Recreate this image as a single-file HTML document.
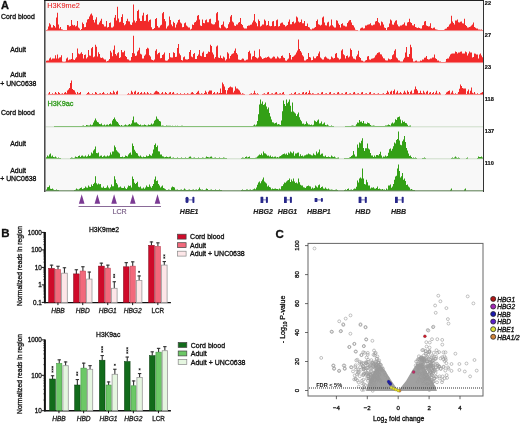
<!DOCTYPE html><html><head><meta charset="utf-8"><style>html,body{margin:0;padding:0;background:#fff;}svg{display:block;will-change:transform;}text{font-family:"Liberation Sans", sans-serif;}</style></head><body>
<svg width="520" height="423" viewBox="0 0 520 423">
<rect width="520" height="423" fill="#fff"/>
<rect x="45.5" y="0" width="437.5" height="192" fill="#f8f8f8"/>
<path d="M46,30.6V29.9H47V29.6H48V26.6H49V23.3H50V24.6H51V27.5H52V27.6H53V24.9H54V26.1H55V27.6H56V17.5H57V12.7H58V24.6H59V28.4H60V27.1H61V29.3H62V29.6H63V29.9H64V29.9H65V29.9H66V29.9H67V24.9H68V25.2H69V26.6H70V26.1H71V20.0H72V24.7H73V25.5H74V24.9H75V26.5H76V25.8H77V21.1H78V27.6H79V28.6H80V29.9H81V28.9H82V22.6H83V24.0H84V27.3H85V27.0H86V22.5H87V19.6H88V19.1H89V16.5H90V14.6H91V13.6H92V15.6H93V20.1H94V22.4H95V19.6H96V17.3H97V24.5H98V24.4H99V22.6H100V20.8H101V18.8H102V24.0H103V24.6H104V26.6H105V26.6H106V21.1H107V27.5H108V26.9H109V23.0H110V22.6H111V27.5H112V27.6H113V26.5H114V17.8H115V15.0H116V20.6H117V6.7H118V18.6H119V22.2H120V21.7H121V17.0H122V14.3H123V23.1H124V25.3H125V24.3H126V21.1H127V18.8H128V21.2H129V21.6H130V24.6H131V25.0H132V22.6H133V4.4H134V20.6H135V22.4H136V21.0H137V10.9H138V9.7H139V18.4H140V21.1H141V21.0H142V15.6H143V12.7H144V20.9H145V20.7H146V15.1H147V14.3H148V21.4H149V19.9H150V19.6H151V27.2H152V29.2H153V29.1H154V27.9H155V19.1H156V18.0H157V26.1H158V27.6H159V27.4H160V25.6H161V24.7H162V13.2H163V12.0H164V19.1H165V21.3H166V28.5H167V26.5H168V25.6H169V16.6H170V19.9H171V24.6H172V26.3H173V21.8H174V22.9H175V27.4H176V24.6H177V22.6H178V20.1H179V19.6H180V22.5H181V23.5H182V27.3H183V27.1H184V23.2H185V22.6H186V25.4H187V26.5H188V27.4H189V27.6H190V29.6H191V28.8H192V24.6H193V25.1H194V22.5H195V22.0H196V20.6H197V15.7H198V15.0H199V19.5H200V25.5H201V25.9H202V19.6H203V23.0H204V23.3H205V20.3H206V19.6H207V22.3H208V22.2H209V19.2H210V18.8H211V23.4H212V24.2H213V24.5H214V24.3H215V22.3H216V13.3H217V12.0H218V20.6H219V27.5H220V28.2H221V25.1H222V24.4H223V21.6H224V26.6H225V27.6H226V28.5H227V28.1H228V24.2H229V22.3H230V16.5H231V15.0H232V21.4H233V22.6H234V25.5H235V25.9H236V24.6H237V24.4H238V22.8H239V22.0H240V18.0H241V23.9H242V25.0H243V27.5H244V28.4H245V28.5H246V28.4H247V25.9H248V25.6H249V25.6H250V24.7H251V24.4H252V22.4H253V20.6H254V14.0H255V21.7H256V23.3H257V26.2H258V19.6H259V20.9H260V26.5H261V25.7H262V24.6H263V24.6H264V19.6H265V20.7H266V25.5H267V24.9H268V21.1H269V25.7H270V26.3H271V25.9H272V21.6H273V21.1H274V26.3H275V25.9H276V20.2H277V19.6H278V26.6H279V26.1H280V23.6H281V22.8H282V22.6H283V24.4H284V24.9H285V26.6H286V25.7H287V25.1H288V21.8H289V19.6H290V24.2H291V24.2H292V21.9H293V21.6H294V23.5H295V22.6H296V16.6H297V17.4H298V21.6H299V22.5H300V22.1H301V19.6H302V23.2H303V23.2H304V21.1H305V26.0H306V26.1H307V23.6H308V27.1H309V27.6H310V29.3H311V29.5H312V28.6H313V28.6H314V27.7H315V26.9H316V21.1H317V19.6H318V24.2H319V24.7H320V25.5H321V24.8H322V17.5H323V16.6H324V22.6H325V25.3H326V25.5H327V22.4H328V21.8H329V26.5H330V25.5H331V19.6H332V25.3H333V26.6H334V27.6H335V27.4H336V20.3H337V20.8H338V23.6H339V24.9H340V27.5H341V24.1H342V23.3H343V25.4H344V25.7H345V26.5H346V26.4H347V22.9H348V21.6H349V20.2H350V20.0H351V22.5H352V25.1H353V25.6H354V27.5H355V29.7H356V29.9H357V29.9H358V30.6H359V30.6H360V28.6H361V27.8H362V27.6H363V28.5H364V28.3H365V25.6H366V25.5H367V24.7H368V24.5H369V24.2H370V23.3H371V25.3H372V25.5H373V24.8H374V24.4H375V21.6H376V20.9H377V18.0H378V22.2H379V23.2H380V25.4H381V21.6H382V22.2H383V24.6H384V27.4H385V28.0H386V29.9H387V27.6H388V27.0H389V23.5H390V19.6H391V20.4H392V24.6H393V24.8H394V22.6H395V20.7H396V20.3H397V24.4H398V26.2H399V26.5H400V25.6H401V25.6H402V24.7H403V24.2H404V22.6H405V25.6H406V25.7H407V22.6H408V21.9H409V18.8H410V22.3H411V23.0H412V25.3H413V25.4H414V24.1H415V27.0H416V27.6H417V27.9H418V27.6H419V28.1H420V28.6H421V28.5H422V25.6H423V25.1H424V21.6H425V21.1H426V25.4H427V26.1H428V26.5H429V26.2H430V23.3H431V27.9H432V28.5H433V27.8H434V27.6H435V29.3H436V29.6H437V29.7H438V29.9H439V29.9H440V29.9H441V29.9H442V29.9H443V29.9H444V29.6H445V28.7H446V28.4H447V27.0H448V26.5H449V24.6H450V23.4H451V15.8H452V21.6H453V22.9H454V24.5H455V20.6H456V20.4H457V19.6H458V22.3H459V22.5H460V21.7H461V21.6H462V23.3H463V23.6H464V18.8H465V25.0H466V25.9H467V27.4H468V27.5H469V27.1H470V26.5H471V25.4H472V24.6H473V22.6H474V27.1H475V27.7H476V28.5H477V28.6H478V29.6H479V29.6H480V29.7H481V29.6H482V29.9H483L483.0,30.6Z" fill="#f22a2a"/>
<line x1="45.5" y1="30.8" x2="483" y2="30.8" stroke="#f22a2a" stroke-opacity="0.25" stroke-width="0.6"/>
<path d="M46,62.6V60.7H47V60.6H48V60.6H49V58.4H50V57.6H51V59.5H52V58.6H53V58.6H54V58.6H55V55.3H56V58.4H57V54.6H58V58.4H59V57.6H60V57.2H61V55.3H62V61.6H63V61.7H64V61.7H65V61.4H66V58.4H67V57.6H68V60.2H69V59.6H70V59.6H71V59.0H72V53.1H73V59.6H74V59.9H75V58.6H76V57.3H77V48.6H78V53.6H79V54.2H80V53.5H81V52.3H82V53.9H83V58.4H84V55.1H85V54.6H86V58.4H87V57.3H88V50.0H89V55.5H90V55.8H91V48.2H92V47.0H93V57.3H94V56.4H95V44.7H96V46.7H97V56.4H98V52.3H99V54.0H100V57.6H101V58.0H102V57.6H103V58.6H104V59.6H105V59.6H106V61.6H107V61.0H108V60.6H109V59.0H110V50.8H111V52.6H112V56.2H113V49.7H114V45.5H115V54.0H116V55.4H117V53.3H118V52.3H119V57.9H120V57.2H121V50.0H122V52.3H123V52.3H124V50.8H125V56.0H126V56.9H127V59.2H128V59.6H129V60.5H130V60.6H131V57.1H132V53.1H133V35.7H134V53.6H135V56.1H136V55.6H137V51.4H138V50.3H139V47.8H140V53.8H141V54.6H142V58.4H143V58.5H144V55.7H145V54.6H146V48.9H147V47.8H148V48.6H149V55.3H150V56.6H151V59.5H152V60.0H153V60.5H154V59.4H155V50.7H156V49.3H157V54.3H158V53.0H159V52.6H160V58.3H161V58.1H162V54.9H163V54.2H164V52.6H165V60.6H166V60.8H167V60.6H168V59.2H169V53.1H170V57.2H171V57.5H172V57.6H173V52.3H174V52.9H175V57.0H176V56.7H177V48.0H178V44.0H179V53.5H180V55.2H181V59.9H182V60.4H183V57.3H184V56.6H185V59.3H186V59.6H187V59.6H188V59.1H189V52.1H190V50.0H191V56.6H192V57.2H193V54.1H194V53.1H195V59.1H196V59.1H197V56.0H198V54.6H199V50.0H200V55.8H201V56.2H202V52.7H203V51.6H204V57.1H205V57.1H206V54.0H207V53.4H208V51.6H209V52.0H210V44.7H211V46.0H212V52.6H213V54.4H214V58.4H215V56.9H216V46.6H217V45.5H218V57.6H219V57.9H220V55.6H221V58.0H222V58.4H223V56.6H224V57.6H225V60.6H226V59.2H227V52.3H228V53.5H229V58.5H230V55.9H231V54.6H232V53.8H233V53.2H234V50.8H235V48.6H236V53.1H237V54.6H238V59.6H239V59.7H240V60.0H241V59.6H242V58.6H243V58.8H244V60.4H245V60.5H246V59.8H247V59.4H248V51.9H249V50.8H250V53.6H251V59.4H252V56.6H253V55.9H254V50.8H255V57.1H256V57.7H257V58.5H258V57.4H259V49.3H260V56.3H261V57.6H262V59.0H263V58.6H264V58.0H265V57.6H266V57.7H267V57.1H268V56.6H269V57.4H270V58.5H271V58.4H272V57.6H273V56.6H274V56.8H275V58.4H276V58.4H277V56.6H278V57.5H279V58.4H280V58.3H281V56.0H282V55.6H283V57.4H284V58.1H285V60.6H286V60.7H287V59.6H288V58.6H289V53.1H290V54.9H291V59.5H292V57.1H293V56.5H294V55.5H295V54.5H296V52.6H297V50.6H298V39.5H299V49.0H300V50.9H301V52.6H302V55.3H303V56.4H304V60.6H305V60.5H306V59.6H307V58.9H308V53.1H309V57.0H310V57.6H311V60.3H312V60.1H313V56.6H314V58.3H315V58.3H316V56.6H317V56.0H318V53.4H319V51.6H320V57.5H321V58.6H322V59.6H323V59.5H324V57.2H325V56.6H326V57.6H327V58.5H328V58.7H329V59.5H330V59.3H331V56.6H332V57.4H333V58.5H334V58.0H335V53.8H336V53.1H337V57.4H338V58.3H339V59.4H340V58.7H341V50.6H342V49.3H343V54.2H344V55.3H345V58.6H346V56.0H347V55.6H348V57.6H349V56.4H350V48.6H351V50.1H352V56.6H353V58.4H354V58.8H355V59.4H356V56.2H357V54.6H358V50.8H359V56.9H360V58.1H361V60.6H362V60.8H363V61.6H364V61.6H365V60.6H366V60.1H367V56.6H368V56.1H369V59.4H370V59.8H371V58.7H372V58.5H373V58.2H374V57.5H375V55.4H376V54.6H377V52.9H378V52.6H379V52.3H380V54.2H381V54.6H382V56.5H383V58.3H384V58.6H385V60.3H386V60.6H387V60.5H388V58.6H389V59.2H390V59.5H391V59.1H392V55.2H393V54.3H394V50.8H395V49.3H396V57.4H397V58.6H398V60.3H399V60.6H400V61.4H401V61.6H402V61.4H403V59.6H404V57.8H405V52.6H406V47.0H407V56.8H408V57.0H409V54.1H410V44.7H411V47.3H412V58.6H413V61.4H414V61.5H415V60.7H416V60.6H417V61.6H418V61.6H419V61.5H420V60.6H421V60.8H422V59.6H423V59.4H424V57.8H425V57.5H426V56.1H427V58.9H428V59.5H429V59.3H430V58.6H431V58.6H432V57.6H433V57.6H434V54.6H435V58.3H436V58.9H437V60.4H438V60.6H439V61.5H440V61.6H441V61.9H442V61.9H443V61.9H444V61.9H445V61.7H446V59.0H447V58.6H448V58.5H449V56.5H450V54.6H451V53.8H452V53.6H453V53.6H454V53.4H455V51.6H456V51.9H457V53.6H458V52.6H459V52.5H460V51.7H461V51.6H462V53.5H463V53.6H464V53.4H465V51.6H466V52.3H467V55.5H468V53.6H469V51.6H470V52.4H471V52.6H472V57.5H473V57.1H474V53.6H475V53.7H476V54.5H477V54.6H478V58.5H479V54.5H480V53.6H481V55.5H482V57.3H483L483.0,62.6Z" fill="#f22a2a"/>
<line x1="45.5" y1="62.80" x2="483" y2="62.80" stroke="#f22a2a" stroke-opacity="0.25" stroke-width="0.6"/>
<path d="M46,94.6V94.6H47V94.6H48V93.6H49V92.0H50V93.9H51V93.9H52V93.3H53V93.9H54V93.8H55V92.0H56V93.3H57V93.9H58V92.0H59V93.1H60V93.9H61V93.7H62V93.3H63V93.9H64V92.8H65V92.0H66V93.2H67V90.4H68V89.5H69V88.1H70V83.1H71V80.6H72V89.0H73V90.1H74V90.6H75V92.6H76V93.9H77V92.0H78V93.5H79V93.0H80V92.0H81V94.6H82V94.6H83V94.6H84V94.6H85V94.6H86V93.9H87V92.9H88V92.0H89V93.5H90V93.9H91V93.9H92V93.3H93V93.9H94V93.9H95V92.0H96V92.8H97V93.9H98V93.9H99V93.6H100V93.3H101V93.9H102V93.1H103V92.0H104V93.5H105V93.9H106V93.9H107V93.3H108V93.9H109V93.7H110V92.0H111V93.3H112V93.6H113V90.7H114V92.2H115V93.9H116V91.8H117V90.7H118V94.6H119V94.6H120V94.6H121V94.6H122V94.6H123V94.6H124V94.6H125V94.6H126V94.6H127V93.9H128V93.3H129V93.9H130V93.8H131V90.7H132V92.2H133V93.9H134V91.8H135V90.7H136V93.9H137V92.8H138V92.0H139V93.9H140V93.1H141V92.0H142V93.8H143V93.5H144V92.0H145V93.5H146V93.8H147V92.0H148V93.3H149V93.9H150V93.3H151V93.8H152V93.9H153V93.7H154V92.6H155V91.3H156V90.7H157V91.6H158V92.0H159V93.5H160V93.9H161V93.2H162V92.0H163V93.7H164V93.7H165V92.0H166V92.9H167V93.9H168V93.7H169V92.5H170V92.0H171V93.9H172V92.8H173V92.0H174V93.7H175V93.9H176V93.7H177V93.3H178V93.9H179V93.9H180V93.3H181V93.9H182V93.9H183V93.9H184V93.3H185V93.9H186V93.9H187V93.3H188V93.7H189V93.9H190V93.8H191V92.6H192V92.0H193V93.3H194V93.9H195V93.9H196V93.1H197V91.7H198V90.7H199V93.5H200V93.9H201V93.3H202V93.8H203V93.9H204V93.1H205V90.7H206V92.2H207V93.9H208V91.7H209V90.6H210V90.6H211V90.6H212V93.9H213V93.1H214V92.0H215V93.7H216V93.6H217V92.0H218V93.6H219V92.9H220V88.6H221V92.9H222V82.6H223V84.3H224V86.6H225V90.0H226V93.8H227V90.3H228V88.1H229V87.2H230V86.6H231V87.2H232V87.6H233V92.4H234V90.8H235V86.6H236V88.6H237V88.5H238V89.5H239V90.5H240V92.6H241V93.9H242V93.3H243V93.7H244V93.9H245V94.6H246V94.6H247V94.6H248V94.6H249V93.9H250V93.8H251V93.3H252V93.9H253V93.2H254V90.7H255V93.3H256V93.9H257V93.3H258V93.9H259V94.6H260V94.6H261V94.6H262V93.9H263V93.7H264V93.3H265V93.9H266V93.9H267V92.6H268V92.0H269V93.9H270V93.9H271V93.6H272V93.3H273V93.9H274V93.8H275V92.6H276V92.0H277V93.8H278V93.9H279V93.6H280V93.3H281V93.9H282V92.8H283V92.0H284V93.9H285V94.6H286V94.6H287V94.6H288V94.6H289V93.9H290V93.9H291V93.3H292V93.9H293V93.9H294V92.7H295V92.0H296V93.9H297V93.9H298V93.6H299V93.3H300V93.9H301V93.9H302V92.6H303V92.0H304V93.9H305V92.8H306V92.0H307V93.9H308V93.0H309V90.6H310V93.2H311V93.9H312V93.3H313V93.6H314V93.9H315V93.9H316V93.9H317V93.5H318V93.3H319V93.9H320V93.9H321V92.6H322V92.0H323V93.9H324V93.9H325V93.6H326V93.3H327V93.9H328V93.9H329V92.6H330V92.0H331V93.9H332V93.9H333V93.6H334V93.3H335V93.9H336V93.9H337V92.6H338V92.0H339V93.8H340V93.9H341V93.6H342V93.3H343V93.9H344V93.9H345V92.6H346V92.0H347V93.9H348V93.9H349V93.6H350V93.3H351V93.9H352V93.9H353V92.6H354V92.0H355V93.8H356V93.9H357V93.6H358V93.3H359V93.9H360V93.9H361V92.6H362V92.0H363V93.9H364V93.9H365V93.6H366V93.3H367V93.9H368V93.9H369V92.6H370V92.0H371V93.9H372V93.9H373V93.6H374V93.3H375V93.9H376V93.9H377V93.7H378V93.3H379V93.9H380V93.9H381V93.9H382V93.8H383V93.3H384V93.9H385V93.9H386V93.0H387V90.7H388V92.2H389V93.9H390V91.8H391V90.7H392V93.9H393V91.1H394V89.6H395V93.8H396V92.4H397V90.7H398V93.5H399V93.3H400V92.0H401V93.3H402V93.9H403V92.8H404V90.7H405V92.5H406V93.7H407V90.6H408V92.1H409V93.9H410V91.7H411V90.6H412V93.4H413V93.2H414V89.4H415V86.6H416V88.9H417V90.6H418V93.3H419V93.0H420V90.7H421V93.0H422V93.4H423V90.7H424V92.4H425V93.8H426V91.7H427V90.7H428V93.9H429V92.8H430V92.0H431V93.9H432V93.0H433V92.0H434V93.9H435V92.7H436V90.7H437V93.4H438V93.7H439V92.0H440V93.5H441V94.6H442V94.6H443V94.6H444V94.6H445V93.9H446V92.6H447V91.7H448V91.0H449V90.6H450V93.8H451V92.4H452V90.7H453V93.6H454V93.9H455V93.3H456V93.9H457V93.8H458V92.0H459V88.8H460V84.6H461V86.1H462V88.0H463V88.6H464V88.6H465V88.6H466V93.9H467V91.3H468V89.6H469V93.6H470V90.8H471V87.6H472V92.7H473V93.5H474V92.0H475V93.7H476V93.9H477V93.3H478V93.9H479V93.9H480V93.3H481V92.8H482V92.0H483L483.0,94.6Z" fill="#f22a2a"/>
<line x1="45.5" y1="94.8" x2="483" y2="94.8" stroke="#f22a2a" stroke-opacity="0.25" stroke-width="0.6"/>
<path d="M46,126.6V126.6H47V126.6H48V126.6H49V126.6H50V126.6H51V126.6H52V126.6H53V126.6H54V125.9H55V125.9H56V125.9H57V125.9H58V125.9H59V125.9H60V125.9H61V125.9H62V125.9H63V125.9H64V125.9H65V125.9H66V125.9H67V125.9H68V125.9H69V125.9H70V125.9H71V125.9H72V125.9H73V125.9H74V125.9H75V125.9H76V125.9H77V125.9H78V125.9H79V125.9H80V125.9H81V125.9H82V125.8H83V125.6H84V125.9H85V125.9H86V125.1H87V125.3H88V125.6H89V125.6H90V124.6H91V125.2H92V124.8H93V122.6H94V120.6H95V118.6H96V120.6H97V122.1H98V122.6H99V123.9H100V124.3H101V123.6H102V125.2H103V125.3H104V124.6H105V125.4H106V124.8H107V124.4H108V125.2H109V124.1H110V123.6H111V124.5H112V120.6H113V119.0H114V117.6H115V119.5H116V121.2H117V122.0H118V123.4H119V125.1H120V125.7H121V125.1H122V125.7H123V125.8H124V125.2H125V124.6H126V125.2H127V125.4H128V124.8H129V124.1H130V124.7H131V123.5H132V120.2H133V116.6H134V122.6H135V122.6H136V122.2H137V123.4H138V124.2H139V125.1H140V124.6H141V125.4H142V125.3H143V125.3H144V124.6H145V125.0H146V125.6H147V125.5H148V124.6H149V125.0H150V124.8H151V123.6H152V124.6H153V123.4H154V120.8H155V119.7H156V116.6H157V118.7H158V119.6H159V121.1H160V121.6H161V125.7H162V125.6H163V125.7H164V125.9H165V125.9H166V125.6H167V125.7H168V125.7H169V125.7H170V125.8H171V125.9H172V125.8H173V125.9H174V125.9H175V125.8H176V125.9H177V125.8H178V125.9H179V125.9H180V125.9H181V125.8H182V125.8H183V125.9H184V125.9H185V125.9H186V125.9H187V125.9H188V125.9H189V125.9H190V125.9H191V125.9H192V125.9H193V125.9H194V125.9H195V125.9H196V125.9H197V125.9H198V125.9H199V125.9H200V125.9H201V125.9H202V125.9H203V125.9H204V125.9H205V125.9H206V125.9H207V125.9H208V125.9H209V125.9H210V125.9H211V125.9H212V125.9H213V125.9H214V125.9H215V125.9H216V125.9H217V125.9H218V125.9H219V125.9H220V125.9H221V125.9H222V125.9H223V125.9H224V125.9H225V125.9H226V125.9H227V125.9H228V125.9H229V125.9H230V125.9H231V125.9H232V125.9H233V125.9H234V125.9H235V125.9H236V125.9H237V125.9H238V125.9H239V125.9H240V125.9H241V125.9H242V125.9H243V125.9H244V125.9H245V125.9H246V125.9H247V125.9H248V125.9H249V125.9H250V125.9H251V125.9H252V125.9H253V125.6H254V124.6H255V125.4H256V124.6H257V121.1H258V114.2H259V104.5H260V99.6H261V103.7H262V101.6H263V104.9H264V104.3H265V102.6H266V106.6H267V109.3H268V107.6H269V113.1H270V116.6H271V119.5H272V122.2H273V122.6H274V123.4H275V123.0H276V122.6H277V124.4H278V124.1H279V124.5H280V125.0H281V120.6H282V111.2H283V100.6H284V104.1H285V106.1H286V99.6H287V103.2H288V101.7H289V99.6H290V105.8H291V111.8H292V102.4H293V111.6H294V112.6H295V113.5H296V116.1H297V114.2H298V112.6H299V117.2H300V119.8H301V121.2H302V123.7H303V123.6H304V124.4H305V123.9H306V121.6H307V123.3H308V124.4H309V124.6H310V124.9H311V124.6H312V125.3H313V124.7H314V120.6H315V121.3H316V122.0H317V120.4H318V119.6H319V123.5H320V123.3H321V121.6H322V124.3H323V123.6H324V122.6H325V124.9H326V125.3H327V124.6H328V125.6H329V125.9H330V125.9H331V125.6H332V125.9H333V125.9H334V126.6H335V126.6H336V126.6H337V126.6H338V126.6H339V126.6H340V126.6H341V126.6H342V126.6H343V126.6H344V126.6H345V125.9H346V125.9H347V125.9H348V125.9H349V125.9H350V125.9H351V125.8H352V125.6H353V125.8H354V125.9H355V125.7H356V124.2H357V122.5H358V122.8H359V120.0H360V121.8H361V121.6H362V122.9H363V121.1H364V123.6H365V123.6H366V124.0H367V122.6H368V123.1H369V123.5H370V125.1H371V125.8H372V125.7H373V125.6H374V125.7H375V125.9H376V125.9H377V125.9H378V125.9H379V125.9H380V125.9H381V125.9H382V125.9H383V125.9H384V125.9H385V125.6H386V125.6H387V125.3H388V124.6H389V124.9H390V125.4H391V123.4H392V122.6H393V123.6H394V122.5H395V119.3H396V120.0H397V117.5H398V116.9H399V116.6H400V119.6H401V123.2H402V120.6H403V122.0H404V121.5H405V122.9H406V123.3H407V124.8H408V125.9H409V125.7H410V125.6H411V126.6H412V126.6H413V126.6H414V126.6H415V126.6H416V126.6H417V126.6H418V126.6H419V126.6H420V126.6H421V126.6H422V126.6H423V126.6H424V126.6H425V126.6H426V126.6H427V126.6H428V126.6H429V126.6H430V126.6H431V126.6H432V126.6H433V126.6H434V126.6H435V126.6H436V126.6H437V126.6H438V126.6H439V126.6H440V126.6H441V126.6H442V126.6H443V126.6H444V126.6H445V126.6H446V126.6H447V126.6H448V126.6H449V126.6H450V126.6H451V126.6H452V126.6H453V126.6H454V126.6H455V126.6H456V126.6H457V126.6H458V126.6H459V126.6H460V126.6H461V126.6H462V126.6H463V126.6H464V126.6H465V126.6H466V126.6H467V126.6H468V126.6H469V126.6H470V126.6H471V126.6H472V126.6H473V126.6H474V126.6H475V126.6H476V126.6H477V126.6H478V126.6H479V126.6H480V126.6H481V126.6H482V126.6H483L483.0,126.6Z" fill="#33a016"/>
<line x1="45.5" y1="126.8" x2="483" y2="126.8" stroke="#4a8a3a" stroke-opacity="0.35" stroke-width="0.7"/>
<path d="M46,158.6V157.2H47V155.6H48V156.6H49V154.6H50V153.6H51V156.6H52V155.6H53V157.1H54V157.3H55V156.6H56V157.4H57V157.9H58V157.6H59V157.9H60V157.9H61V158.6H62V158.6H63V158.6H64V158.6H65V158.6H66V158.6H67V158.6H68V158.6H69V158.6H70V157.9H71V157.6H72V157.8H73V157.9H74V157.7H75V156.6H76V156.9H77V157.3H78V156.1H79V155.6H80V156.9H81V155.8H82V155.6H83V156.4H84V156.5H85V155.6H86V156.8H87V156.2H88V154.6H89V156.0H90V155.6H91V152.6H92V153.4H93V150.6H94V149.2H95V146.6H96V152.9H97V153.3H98V152.6H99V156.6H100V155.8H101V155.6H102V156.9H103V156.3H104V155.6H105V156.4H106V156.6H107V155.6H108V156.2H109V155.6H110V152.6H111V154.5H112V151.6H113V151.5H114V145.6H115V147.3H116V150.2H117V151.6H118V152.5H119V153.6H120V157.1H121V157.0H122V156.6H123V157.3H124V157.0H125V155.6H126V155.9H127V156.6H128V154.6H129V153.3H130V152.6H131V154.8H132V143.6H133V145.9H134V149.7H135V151.6H136V153.1H137V153.6H138V155.8H139V156.5H140V155.6H141V156.8H142V157.3H143V156.6H144V157.0H145V157.1H146V155.6H147V156.2H148V156.1H149V154.2H150V155.3H151V155.8H152V153.5H153V149.6H154V145.1H155V143.6H156V147.0H157V145.4H158V151.3H159V151.6H160V154.6H161V154.6H162V156.3H163V156.6H164V157.2H165V157.0H166V156.6H167V156.9H168V157.2H169V156.8H170V156.6H171V157.9H172V157.7H173V157.6H174V157.9H175V157.9H176V157.9H177V157.6H178V157.9H179V157.9H180V157.9H181V157.6H182V157.9H183V157.9H184V157.9H185V157.6H186V157.9H187V157.9H188V157.8H189V156.8H190V156.6H191V157.8H192V157.9H193V157.8H194V157.6H195V157.9H196V157.9H197V157.9H198V157.6H199V157.9H200V157.9H201V157.9H202V157.6H203V157.8H204V157.9H205V157.8H206V156.6H207V156.9H208V157.3H209V157.6H210V156.8H211V156.6H212V157.7H213V157.9H214V157.8H215V157.6H216V157.9H217V157.9H218V157.9H219V157.6H220V157.9H221V157.9H222V157.9H223V157.6H224V157.8H225V157.9H226V157.9H227V158.6H228V158.6H229V158.6H230V158.6H231V158.6H232V158.6H233V158.6H234V158.6H235V158.6H236V158.6H237V158.6H238V158.6H239V158.6H240V158.6H241V157.9H242V157.6H243V157.8H244V157.9H245V157.0H246V156.6H247V157.5H248V156.9H249V156.6H250V157.9H251V157.9H252V157.9H253V157.9H254V157.9H255V157.7H256V157.6H257V156.5H258V155.5H259V154.6H260V154.9H261V153.6H262V155.2H263V151.6H264V153.2H265V153.6H266V154.5H267V155.8H268V155.6H269V156.4H270V155.6H271V157.1H272V156.6H273V157.3H274V156.8H275V156.6H276V157.4H277V157.1H278V157.5H279V156.6H280V155.9H281V155.3H282V154.6H283V153.9H284V153.6H285V154.6H286V153.6H287V154.9H288V152.6H289V153.6H290V151.6H291V152.5H292V153.2H293V151.6H294V155.7H295V153.6H296V153.6H297V152.7H298V152.6H299V156.3H300V154.2H301V156.0H302V155.6H303V156.6H304V155.6H305V155.2H306V154.6H307V154.4H308V153.6H309V154.3H310V154.6H311V155.3H312V155.4H313V153.6H314V154.8H315V155.2H316V151.6H317V153.6H318V152.3H319V149.6H320V154.8H321V153.8H322V153.6H323V156.3H324V156.5H325V155.6H326V157.1H327V157.1H328V156.6H329V157.1H330V157.2H331V155.6H332V156.5H333V157.1H334V156.6H335V157.4H336V157.9H337V157.7H338V157.6H339V158.6H340V158.6H341V158.6H342V158.6H343V158.6H344V157.9H345V157.9H346V157.9H347V157.9H348V157.9H349V157.6H350V156.9H351V156.1H352V155.3H353V151.1H354V154.5H355V156.6H356V156.4H357V144.6H358V147.7H359V142.6H360V143.3H361V140.7H362V138.2H363V148.1H364V151.1H365V148.3H366V148.2H367V143.6H368V148.6H369V149.6H370V152.9H371V155.5H372V155.6H373V156.9H374V155.6H375V156.7H376V155.1H377V154.9H378V155.5H379V153.9H380V151.8H381V155.6H382V157.4H383V156.6H384V156.8H385V155.6H386V156.4H387V156.1H388V152.8H389V149.3H390V148.6H391V150.8H392V148.7H393V146.3H394V142.6H395V143.6H396V140.1H397V139.0H398V131.4H399V140.6H400V144.8H401V145.3H402V141.2H403V139.6H404V135.9H405V142.0H406V148.1H407V150.6H408V153.6H409V156.1H410V155.6H411V157.1H412V157.9H413V157.6H414V157.9H415V157.5H416V157.9H417V158.6H418V158.6H419V158.6H420V158.6H421V158.6H422V157.9H423V157.9H424V157.6H425V157.9H426V158.6H427V158.6H428V158.6H429V158.6H430V158.6H431V158.6H432V158.6H433V158.6H434V158.6H435V158.6H436V158.6H437V158.6H438V158.6H439V158.6H440V158.6H441V158.6H442V158.6H443V158.6H444V158.6H445V158.6H446V158.6H447V158.6H448V158.6H449V158.6H450V158.6H451V157.9H452V157.6H453V157.9H454V157.6H455V156.6H456V157.5H457V157.9H458V157.6H459V157.9H460V158.6H461V158.6H462V158.6H463V158.6H464V158.6H465V158.6H466V157.9H467V157.6H468V158.6H469V158.6H470V158.6H471V158.6H472V158.6H473V158.6H474V158.6H475V158.6H476V158.6H477V157.9H478V156.6H479V157.0H480V157.1H481V156.6H482V157.6H483L483.0,158.6Z" fill="#33a016"/>
<line x1="45.5" y1="158.80" x2="483" y2="158.80" stroke="#4a8a3a" stroke-opacity="0.35" stroke-width="0.7"/>
<path d="M46,190.6V189.4H47V187.3H48V187.1H49V185.6H50V188.8H51V188.9H52V188.6H53V189.4H54V189.9H55V189.9H56V189.6H57V189.9H58V189.9H59V190.6H60V190.6H61V190.6H62V190.6H63V190.6H64V190.6H65V190.6H66V190.6H67V190.6H68V190.6H69V190.6H70V190.6H71V190.6H72V190.6H73V190.6H74V189.9H75V189.7H76V188.6H77V189.2H78V189.5H79V188.8H80V188.1H81V187.6H82V188.9H83V188.6H84V187.9H85V186.6H86V187.6H87V187.8H88V185.6H89V186.7H90V187.1H91V184.6H92V186.1H93V184.0H94V182.7H95V176.3H96V183.2H97V184.4H98V183.6H99V184.3H100V184.0H101V187.4H102V187.8H103V186.6H104V188.1H105V188.0H106V187.6H107V185.6H108V187.5H109V188.5H110V187.2H111V184.6H112V186.3H113V186.3H114V176.3H115V179.6H116V182.9H117V184.6H118V187.6H119V187.3H120V186.6H121V187.8H122V188.0H123V187.9H124V186.6H125V188.3H126V188.9H127V187.5H128V185.6H129V186.1H130V185.6H131V187.5H132V176.6H133V178.9H134V182.7H135V184.1H136V183.1H137V181.8H138V186.8H139V187.2H140V186.6H141V188.5H142V188.6H143V187.6H144V188.7H145V187.5H146V185.6H147V186.7H148V187.0H149V184.6H150V186.4H151V187.7H152V186.0H153V184.1H154V179.6H155V176.6H156V180.9H157V180.6H158V184.0H159V185.6H160V187.5H161V186.5H162V185.6H163V188.0H164V188.5H165V189.2H166V189.9H167V189.9H168V189.6H169V189.8H170V189.9H171V187.6H172V186.6H173V187.0H174V187.6H175V189.7H176V189.8H177V189.6H178V189.9H179V189.9H180V189.8H181V189.6H182V189.9H183V189.8H184V188.6H185V189.4H186V189.9H187V189.9H188V189.7H189V189.6H190V189.9H191V189.9H192V189.7H193V189.6H194V189.9H195V189.8H196V189.5H197V189.9H198V189.3H199V187.6H200V189.3H201V189.8H202V189.6H203V189.9H204V189.9H205V189.7H206V188.6H207V189.0H208V189.9H209V189.9H210V189.7H211V189.6H212V189.9H213V189.9H214V189.9H215V189.6H216V189.9H217V189.9H218V189.9H219V189.6H220V189.9H221V189.9H222V190.6H223V190.6H224V190.6H225V190.6H226V190.6H227V190.6H228V190.6H229V190.6H230V190.6H231V190.6H232V190.6H233V190.6H234V190.6H235V190.6H236V190.6H237V190.6H238V190.6H239V190.6H240V190.6H241V189.9H242V189.6H243V189.9H244V189.9H245V189.9H246V189.6H247V189.5H248V189.9H249V189.7H250V189.6H251V189.9H252V189.7H253V189.3H254V188.6H255V189.3H256V187.6H257V184.7H258V182.5H259V181.6H260V183.2H261V181.3H262V179.6H263V177.6H264V181.6H265V182.6H266V183.5H267V186.4H268V185.6H269V187.0H270V187.6H271V189.2H272V188.6H273V189.0H274V188.8H275V188.6H276V189.0H277V189.1H278V189.6H279V188.6H280V189.3H281V186.2H282V185.9H283V184.3H284V182.6H285V182.8H286V181.5H287V180.6H288V180.1H289V178.6H290V182.1H291V179.5H292V181.3H293V178.6H294V181.4H295V183.0H296V182.6H297V183.4H298V178.6H299V182.3H300V184.7H301V185.6H302V185.6H303V187.3H304V187.6H305V188.1H306V186.6H307V186.1H308V185.6H309V186.3H310V186.6H311V188.7H312V187.6H313V188.5H314V188.0H315V185.6H316V186.4H317V187.6H318V185.3H319V184.6H320V188.1H321V187.1H322V186.6H323V188.6H324V188.7H325V187.6H326V188.8H327V189.3H328V188.6H329V189.5H330V189.8H331V189.6H332V189.8H333V189.9H334V189.9H335V189.7H336V189.6H337V189.9H338V190.6H339V190.6H340V190.6H341V190.6H342V190.6H343V190.6H344V189.9H345V189.6H346V189.9H347V189.0H348V188.6H349V189.9H350V189.7H351V189.6H352V189.9H353V189.2H354V188.4H355V188.7H356V186.7H357V180.6H358V182.5H359V178.5H360V177.6H361V178.4H362V168.6H363V178.6H364V184.1H365V184.6H366V179.8H367V182.3H368V185.6H369V185.6H370V188.5H371V187.6H372V187.7H373V187.3H374V188.4H375V188.8H376V187.9H377V186.6H378V189.1H379V188.6H380V189.2H381V189.4H382V189.1H383V189.7H384V189.6H385V189.9H386V188.6H387V189.4H388V185.6H389V185.6H390V184.6H391V187.7H392V186.6H393V184.0H394V179.8H395V176.6H396V175.7H397V168.6H398V164.6H399V170.9H400V177.4H401V176.3H402V173.0H403V179.7H404V178.6H405V181.0H406V184.9H407V184.6H408V186.4H409V187.6H410V189.5H411V189.1H412V189.7H413V189.9H414V189.9H415V190.6H416V190.6H417V190.6H418V190.6H419V190.6H420V190.6H421V190.6H422V190.6H423V190.6H424V190.6H425V190.6H426V190.6H427V190.6H428V190.6H429V190.6H430V190.6H431V190.6H432V190.6H433V190.6H434V190.6H435V190.6H436V190.6H437V190.6H438V190.6H439V190.6H440V190.6H441V190.6H442V190.6H443V190.6H444V190.6H445V190.6H446V190.6H447V190.6H448V190.6H449V190.6H450V189.8H451V188.6H452V190.6H453V190.6H454V190.6H455V190.6H456V190.6H457V190.6H458V190.6H459V190.6H460V190.6H461V190.6H462V190.6H463V190.6H464V189.6H465V188.6H466V190.6H467V190.6H468V190.6H469V190.6H470V190.6H471V190.6H472V190.6H473V190.6H474V190.6H475V190.6H476V190.6H477V190.6H478V190.6H479V190.6H480V190.6H481V190.6H482V190.6H483L483.0,190.6Z" fill="#33a016"/>
<line x1="45.5" y1="190.80" x2="483" y2="190.80" stroke="#2c5a20" stroke-opacity="0.85" stroke-width="0.9"/>
<line x1="44.8" y1="0" x2="44.8" y2="192" stroke="#444" stroke-width="1.5"/>
<line x1="483.5" y1="0" x2="483.5" y2="192" stroke="#333" stroke-width="1"/>
<line x1="44" y1="0.3" x2="484" y2="0.3" stroke="#222" stroke-width="1.2"/>
<text x="47.3" y="8.2" font-size="7.3" fill="#e82828" stroke="#e82828" stroke-width="0.1">H3K9me2</text>
<text x="47.5" y="106.4" font-size="7.3" fill="#2e9a1a" stroke="#2e9a1a" stroke-width="0.3">H3K9ac</text>
<text x="484.8" y="5.2" font-size="5.6" font-weight="bold" fill="#111" stroke="#111" stroke-width="0.2">22</text>
<text x="484.8" y="37.2" font-size="5.6" font-weight="bold" fill="#111" stroke="#111" stroke-width="0.2">27</text>
<text x="484.8" y="69.2" font-size="5.6" font-weight="bold" fill="#111" stroke="#111" stroke-width="0.2">23</text>
<text x="484.8" y="101.2" font-size="5.6" font-weight="bold" fill="#111" stroke="#111" stroke-width="0.2">118</text>
<text x="484.8" y="133.2" font-size="5.6" font-weight="bold" fill="#111" stroke="#111" stroke-width="0.2">137</text>
<text x="484.8" y="165.2" font-size="5.6" font-weight="bold" fill="#111" stroke="#111" stroke-width="0.2">110</text>
<text x="1.0" y="9.2" font-size="11" text-anchor="start" font-weight="bold" font-style="normal" fill="#111" stroke="#111" stroke-width="0.3">A</text>
<text x="17.9" y="19.0" font-size="6.9" text-anchor="middle" font-weight="normal" font-style="normal" fill="#111" stroke="#111" stroke-width="0.32">Cord blood</text>
<text x="18.1" y="51.6" font-size="6.9" text-anchor="middle" font-weight="normal" font-style="normal" fill="#111" stroke="#111" stroke-width="0.32">Adult</text>
<text x="18.1" y="77.3" font-size="6.9" text-anchor="middle" font-weight="normal" font-style="normal" fill="#111" stroke="#111" stroke-width="0.32">Adult</text>
<text x="18.3" y="86.3" font-size="6.9" text-anchor="middle" font-weight="normal" font-style="normal" fill="#111" stroke="#111" stroke-width="0.32">+ UNC0638</text>
<text x="17.9" y="115.2" font-size="6.9" text-anchor="middle" font-weight="normal" font-style="normal" fill="#111" stroke="#111" stroke-width="0.32">Cord blood</text>
<text x="18.1" y="145.8" font-size="6.9" text-anchor="middle" font-weight="normal" font-style="normal" fill="#111" stroke="#111" stroke-width="0.32">Adult</text>
<text x="18.1" y="173.3" font-size="6.9" text-anchor="middle" font-weight="normal" font-style="normal" fill="#111" stroke="#111" stroke-width="0.32">Adult</text>
<text x="18.3" y="181.3" font-size="6.9" text-anchor="middle" font-weight="normal" font-style="normal" fill="#111" stroke="#111" stroke-width="0.32">+ UNC0638</text>
<path d="M81.7,194.3 L84.5,203.7 L78.9,203.7 Z" fill="#7b3a93"/>
<path d="M97.4,194.3 L100.2,203.7 L94.60,203.7 Z" fill="#7b3a93"/>
<path d="M114.1,194.3 L116.90,203.7 L111.3,203.7 Z" fill="#7b3a93"/>
<path d="M132.8,194.3 L135.60,203.7 L130.0,203.7 Z" fill="#7b3a93"/>
<path d="M157.5,194.3 L160.3,203.7 L154.7,203.7 Z" fill="#7b3a93"/>
<line x1="78.5" y1="206.5" x2="161" y2="206.5" stroke="#8a6a98" stroke-width="1"/>
<text x="119.6" y="214.4" font-size="7.1" text-anchor="middle" font-weight="normal" font-style="normal" fill="#7a5f88" stroke="#7a5f88" stroke-width="0.2">LCR</text>
<line x1="186.5" y1="199.9" x2="193.4" y2="199.9" stroke="#27278a" stroke-width="0.8" stroke-opacity="0.8"/>
<rect x="185.5" y="196.70" width="3.0" height="6.4" rx="1.5" fill="#27278a"/>
<rect x="192.4" y="196.70" width="2.0" height="6.4" rx="0.8" fill="#27278a"/>
<line x1="261.5" y1="199.9" x2="266.9" y2="199.9" stroke="#27278a" stroke-width="0.8" stroke-opacity="0.8"/>
<rect x="260.5" y="196.70" width="2.8" height="6.4" rx="0.4" fill="#27278a"/>
<rect x="265.9" y="196.70" width="2.0" height="6.4" rx="0.8" fill="#27278a"/>
<line x1="285.0" y1="199.9" x2="290.9" y2="199.9" stroke="#27278a" stroke-width="0.8" stroke-opacity="0.8"/>
<rect x="284.0" y="196.70" width="2.8" height="6.4" rx="0.4" fill="#27278a"/>
<rect x="289.9" y="196.70" width="2.0" height="6.4" rx="0.8" fill="#27278a"/>
<line x1="315.6" y1="199.9" x2="321.9" y2="199.9" stroke="#27278a" stroke-width="0.8" stroke-opacity="0.8"/>
<rect x="314.6" y="197.9" width="2.8" height="4.0" rx="0.4" fill="#27278a"/>
<rect x="320.9" y="197.9" width="2.0" height="4.0" rx="0.8" fill="#27278a"/>
<line x1="359.6" y1="199.9" x2="365.8" y2="199.9" stroke="#27278a" stroke-width="0.8" stroke-opacity="0.8"/>
<rect x="358.6" y="196.70" width="2.8" height="6.4" rx="0.4" fill="#27278a"/>
<rect x="364.8" y="196.70" width="2.0" height="6.4" rx="0.8" fill="#27278a"/>
<line x1="396.0" y1="199.9" x2="402.7" y2="199.9" stroke="#27278a" stroke-width="0.8" stroke-opacity="0.8"/>
<rect x="395.0" y="196.70" width="2.8" height="6.4" rx="0.4" fill="#27278a"/>
<rect x="401.7" y="196.70" width="2.0" height="6.4" rx="0.8" fill="#27278a"/>
<text x="189.2" y="213.9" font-size="7.0" text-anchor="middle" font-weight="bold" font-style="italic" fill="#222" stroke="#222" stroke-width="0.15">HBE1</text>
<text x="263.1" y="213.9" font-size="7.0" text-anchor="middle" font-weight="bold" font-style="italic" fill="#222" stroke="#222" stroke-width="0.15">HBG2</text>
<text x="287.5" y="213.9" font-size="7.0" text-anchor="middle" font-weight="bold" font-style="italic" fill="#222" stroke="#222" stroke-width="0.15">HBG1</text>
<text x="318.9" y="213.9" font-size="7.0" text-anchor="middle" font-weight="bold" font-style="italic" fill="#222" stroke="#222" stroke-width="0.15">HBBP1</text>
<text x="362.9" y="213.9" font-size="7.0" text-anchor="middle" font-weight="bold" font-style="italic" fill="#222" stroke="#222" stroke-width="0.15">HBD</text>
<text x="398.5" y="213.9" font-size="7.0" text-anchor="middle" font-weight="bold" font-style="italic" fill="#222" stroke="#222" stroke-width="0.15">HBB</text>
<text x="1.3" y="237.4" font-size="11.5" text-anchor="start" font-weight="bold" font-style="normal" fill="#111" stroke="#111" stroke-width="0.3">B</text>
<line x1="44.9" y1="232.00" x2="44.9" y2="303.20" stroke="#111" stroke-width="2.0"/>
<line x1="41.70" y1="302.40" x2="44.9" y2="302.40" stroke="#111" stroke-width="1"/>
<text x="41.9" y="304.7" font-size="6.4" text-anchor="end" font-weight="normal" font-style="normal" fill="#111" stroke="#111" stroke-width="0.3">0.1</text>
<line x1="41.70" y1="284.90" x2="44.9" y2="284.90" stroke="#111" stroke-width="1"/>
<text x="41.9" y="287.2" font-size="6.4" text-anchor="end" font-weight="normal" font-style="normal" fill="#111" stroke="#111" stroke-width="0.3">1</text>
<line x1="41.70" y1="267.40" x2="44.9" y2="267.40" stroke="#111" stroke-width="1"/>
<text x="41.9" y="269.7" font-size="6.4" text-anchor="end" font-weight="normal" font-style="normal" fill="#111" stroke="#111" stroke-width="0.3">10</text>
<line x1="41.70" y1="249.90" x2="44.9" y2="249.90" stroke="#111" stroke-width="1"/>
<text x="41.9" y="252.2" font-size="6.4" text-anchor="end" font-weight="normal" font-style="normal" fill="#111" stroke="#111" stroke-width="0.3">100</text>
<line x1="41.70" y1="232.40" x2="44.9" y2="232.40" stroke="#111" stroke-width="1"/>
<text x="41.9" y="234.7" font-size="6.4" text-anchor="end" font-weight="normal" font-style="normal" fill="#111" stroke="#111" stroke-width="0.3">1000</text>
<line x1="43.3" y1="297.13" x2="44.9" y2="297.13" stroke="#111" stroke-width="0.6"/>
<line x1="43.3" y1="294.05" x2="44.9" y2="294.05" stroke="#111" stroke-width="0.6"/>
<line x1="43.3" y1="291.86" x2="44.9" y2="291.86" stroke="#111" stroke-width="0.6"/>
<line x1="43.3" y1="290.17" x2="44.9" y2="290.17" stroke="#111" stroke-width="0.6"/>
<line x1="43.3" y1="288.78" x2="44.9" y2="288.78" stroke="#111" stroke-width="0.6"/>
<line x1="43.3" y1="287.61" x2="44.9" y2="287.61" stroke="#111" stroke-width="0.6"/>
<line x1="43.3" y1="286.60" x2="44.9" y2="286.60" stroke="#111" stroke-width="0.6"/>
<line x1="43.3" y1="285.70" x2="44.9" y2="285.70" stroke="#111" stroke-width="0.6"/>
<line x1="43.3" y1="279.63" x2="44.9" y2="279.63" stroke="#111" stroke-width="0.6"/>
<line x1="43.3" y1="276.55" x2="44.9" y2="276.55" stroke="#111" stroke-width="0.6"/>
<line x1="43.3" y1="274.36" x2="44.9" y2="274.36" stroke="#111" stroke-width="0.6"/>
<line x1="43.3" y1="272.67" x2="44.9" y2="272.67" stroke="#111" stroke-width="0.6"/>
<line x1="43.3" y1="271.28" x2="44.9" y2="271.28" stroke="#111" stroke-width="0.6"/>
<line x1="43.3" y1="270.11" x2="44.9" y2="270.11" stroke="#111" stroke-width="0.6"/>
<line x1="43.3" y1="269.10" x2="44.9" y2="269.10" stroke="#111" stroke-width="0.6"/>
<line x1="43.3" y1="268.20" x2="44.9" y2="268.20" stroke="#111" stroke-width="0.6"/>
<line x1="43.3" y1="262.13" x2="44.9" y2="262.13" stroke="#111" stroke-width="0.6"/>
<line x1="43.3" y1="259.05" x2="44.9" y2="259.05" stroke="#111" stroke-width="0.6"/>
<line x1="43.3" y1="256.86" x2="44.9" y2="256.86" stroke="#111" stroke-width="0.6"/>
<line x1="43.3" y1="255.17" x2="44.9" y2="255.17" stroke="#111" stroke-width="0.6"/>
<line x1="43.3" y1="253.78" x2="44.9" y2="253.78" stroke="#111" stroke-width="0.6"/>
<line x1="43.3" y1="252.61" x2="44.9" y2="252.61" stroke="#111" stroke-width="0.6"/>
<line x1="43.3" y1="251.60" x2="44.9" y2="251.60" stroke="#111" stroke-width="0.6"/>
<line x1="43.3" y1="250.70" x2="44.9" y2="250.70" stroke="#111" stroke-width="0.6"/>
<line x1="43.3" y1="244.63" x2="44.9" y2="244.63" stroke="#111" stroke-width="0.6"/>
<line x1="43.3" y1="241.55" x2="44.9" y2="241.55" stroke="#111" stroke-width="0.6"/>
<line x1="43.3" y1="239.36" x2="44.9" y2="239.36" stroke="#111" stroke-width="0.6"/>
<line x1="43.3" y1="237.67" x2="44.9" y2="237.67" stroke="#111" stroke-width="0.6"/>
<line x1="43.3" y1="236.28" x2="44.9" y2="236.28" stroke="#111" stroke-width="0.6"/>
<line x1="43.3" y1="235.11" x2="44.9" y2="235.11" stroke="#111" stroke-width="0.6"/>
<line x1="43.3" y1="234.10" x2="44.9" y2="234.10" stroke="#111" stroke-width="0.6"/>
<line x1="43.3" y1="233.20" x2="44.9" y2="233.20" stroke="#111" stroke-width="0.6"/>
<line x1="44.1" y1="302.6" x2="170.9" y2="302.6" stroke="#111" stroke-width="1.4"/>
<text x="104.0" y="231.6" font-size="6.8" text-anchor="middle" font-weight="normal" font-style="normal" fill="#111" stroke="#111" stroke-width="0.3">H3K9me2</text>
<line x1="51.55" y1="268.4" x2="51.55" y2="264.8" stroke="#333" stroke-width="1.1"/>
<rect x="49.85" y="264.6" width="3.4" height="1.1" fill="#333"/>
<rect x="48.60" y="268.4" width="5.9" height="34.20" fill="#cf0a2a" stroke="#7a0a1a" stroke-width="0.5"/>
<line x1="58.0" y1="269.5" x2="58.0" y2="265.9" stroke="#333" stroke-width="1.1"/>
<rect x="56.3" y="265.7" width="3.4" height="1.1" fill="#333"/>
<rect x="55.3" y="269.5" width="5.4" height="33.10" fill="#f2697c" stroke="#b84050" stroke-width="0.5"/>
<line x1="64.45" y1="273.2" x2="64.45" y2="267.4" stroke="#333" stroke-width="1.1"/>
<rect x="62.75" y="267.2" width="3.4" height="1.1" fill="#333"/>
<rect x="61.60" y="273.2" width="5.70" height="29.40" fill="#fde6e8" stroke="#9a9a9a" stroke-width="0.8"/>
<line x1="57.95" y1="302.6" x2="57.95" y2="305.1" stroke="#111" stroke-width="1"/>
<text x="57.95" y="313.2" font-size="6.6" text-anchor="middle" font-weight="normal" font-style="italic" fill="#222" stroke="#222" stroke-width="0.3">HBB</text>
<line x1="76.35" y1="273.9" x2="76.35" y2="269.4" stroke="#333" stroke-width="1.1"/>
<rect x="74.65" y="269.2" width="3.4" height="1.1" fill="#333"/>
<rect x="73.5" y="273.9" width="5.70" height="28.70" fill="#cf0a2a" stroke="#7a0a1a" stroke-width="0.5"/>
<line x1="82.9" y1="271.0" x2="82.9" y2="266.4" stroke="#333" stroke-width="1.1"/>
<rect x="81.2" y="266.2" width="3.4" height="1.1" fill="#333"/>
<rect x="80.1" y="271.0" width="5.60" height="31.60" fill="#f2697c" stroke="#b84050" stroke-width="0.5"/>
<line x1="89.3" y1="279.1" x2="89.3" y2="271.7" stroke="#333" stroke-width="1.1"/>
<rect x="87.6" y="271.5" width="3.4" height="1.1" fill="#333"/>
<rect x="86.6" y="279.1" width="5.4" height="23.5" fill="#fde6e8" stroke="#9a9a9a" stroke-width="0.8"/>
<line x1="82.75" y1="302.6" x2="82.75" y2="305.1" stroke="#111" stroke-width="1"/>
<text x="82.75" y="313.2" font-size="6.6" text-anchor="middle" font-weight="normal" font-style="italic" fill="#222" stroke="#222" stroke-width="0.3">HBD</text>
<line x1="101.35" y1="266.1" x2="101.35" y2="262.8" stroke="#333" stroke-width="1.1"/>
<rect x="99.65" y="262.6" width="3.4" height="1.1" fill="#333"/>
<rect x="98.40" y="266.1" width="5.9" height="36.5" fill="#cf0a2a" stroke="#7a0a1a" stroke-width="0.5"/>
<line x1="107.85" y1="268.1" x2="107.85" y2="264.8" stroke="#333" stroke-width="1.1"/>
<rect x="106.15" y="264.6" width="3.4" height="1.1" fill="#333"/>
<rect x="105.2" y="268.1" width="5.30" height="34.5" fill="#f2697c" stroke="#b84050" stroke-width="0.5"/>
<line x1="114.30" y1="288.3" x2="114.30" y2="281.4" stroke="#333" stroke-width="1.1"/>
<rect x="112.60" y="281.2" width="3.4" height="1.1" fill="#333"/>
<rect x="111.5" y="288.3" width="5.60" height="14.30" fill="#fde6e8" stroke="#9a9a9a" stroke-width="0.8"/>
<line x1="107.75" y1="302.6" x2="107.75" y2="305.1" stroke="#111" stroke-width="1"/>
<text x="107.75" y="313.2" font-size="6.6" text-anchor="middle" font-weight="normal" font-style="italic" fill="#222" stroke="#222" stroke-width="0.3">HBG1</text>
<line x1="126.25" y1="266.8" x2="126.25" y2="262.3" stroke="#333" stroke-width="1.1"/>
<rect x="124.55" y="262.1" width="3.4" height="1.1" fill="#333"/>
<rect x="123.40" y="266.8" width="5.70" height="35.80" fill="#cf0a2a" stroke="#7a0a1a" stroke-width="0.5"/>
<line x1="132.7" y1="266.1" x2="132.7" y2="261.5" stroke="#333" stroke-width="1.1"/>
<rect x="131.0" y="261.3" width="3.4" height="1.1" fill="#333"/>
<rect x="130.10" y="266.1" width="5.20" height="36.5" fill="#f2697c" stroke="#b84050" stroke-width="0.5"/>
<line x1="139.15" y1="280.5" x2="139.15" y2="275.6" stroke="#333" stroke-width="1.1"/>
<rect x="137.45" y="275.40" width="3.4" height="1.1" fill="#333"/>
<rect x="136.4" y="280.5" width="5.50" height="22.10" fill="#fde6e8" stroke="#9a9a9a" stroke-width="0.8"/>
<line x1="132.65" y1="302.6" x2="132.65" y2="305.1" stroke="#111" stroke-width="1"/>
<text x="132.65" y="313.2" font-size="6.6" text-anchor="middle" font-weight="normal" font-style="italic" fill="#222" stroke="#222" stroke-width="0.3">HBG2</text>
<line x1="151.45" y1="245.3" x2="151.45" y2="241.6" stroke="#333" stroke-width="1.1"/>
<rect x="149.75" y="241.4" width="3.4" height="1.1" fill="#333"/>
<rect x="148.60" y="245.3" width="5.70" height="57.30" fill="#cf0a2a" stroke="#7a0a1a" stroke-width="0.5"/>
<line x1="157.9" y1="246.3" x2="157.9" y2="242.5" stroke="#333" stroke-width="1.1"/>
<rect x="156.20" y="242.3" width="3.4" height="1.1" fill="#333"/>
<rect x="155.20" y="246.3" width="5.4" height="56.30" fill="#f2697c" stroke="#b84050" stroke-width="0.5"/>
<line x1="164.3" y1="265.1" x2="164.3" y2="261.2" stroke="#333" stroke-width="1.1"/>
<rect x="162.60" y="261.0" width="3.4" height="1.1" fill="#333"/>
<rect x="161.5" y="265.1" width="5.60" height="37.5" fill="#fde6e8" stroke="#9a9a9a" stroke-width="0.8"/>
<line x1="157.85" y1="302.6" x2="157.85" y2="305.1" stroke="#111" stroke-width="1"/>
<text x="157.85" y="313.2" font-size="6.3" text-anchor="middle" font-weight="normal" font-style="normal" fill="#222" stroke="#222" stroke-width="0.3">LCR</text>
<path d="M113.30,274.30L115.10,275.30M113.30,275.30L115.10,274.30M114.20,273.85L114.20,275.75" stroke="#222" stroke-width="0.75"/>
<path d="M113.30,276.60L115.10,277.60M113.30,277.60L115.10,276.60M114.20,276.15L114.20,278.05" stroke="#222" stroke-width="0.75"/>
<path d="M138.20,271.30L140.00,272.30M138.20,272.30L140.00,271.30M139.10,270.85L139.10,272.75" stroke="#222" stroke-width="0.75"/>
<path d="M163.40,254.90L165.20,255.90M163.40,255.90L165.20,254.90M164.30,254.45L164.30,256.35" stroke="#222" stroke-width="0.75"/>
<path d="M163.40,257.20L165.20,258.20M163.40,258.20L165.20,257.20M164.30,256.75L164.30,258.65" stroke="#222" stroke-width="0.75"/>
<rect x="177.5" y="234.2" width="8.6" height="4.9" fill="#cf0a2a" stroke="#444" stroke-width="0.7"/>
<text x="190.1" y="239.40" font-size="7" text-anchor="start" font-weight="normal" font-style="normal" fill="#111" stroke="#111" stroke-width="0.32">Cord blood</text>
<rect x="177.5" y="242.7" width="8.6" height="4.9" fill="#f2697c" stroke="#444" stroke-width="0.7"/>
<text x="190.1" y="247.90" font-size="7" text-anchor="start" font-weight="normal" font-style="normal" fill="#111" stroke="#111" stroke-width="0.32">Adult</text>
<rect x="177.5" y="251.2" width="8.6" height="4.9" fill="#fde6e8" stroke="#888" stroke-width="0.7"/>
<text x="190.1" y="256.4" font-size="7" text-anchor="start" font-weight="normal" font-style="normal" fill="#111" stroke="#111" stroke-width="0.32">Adult + UNC0638</text>
<text x="0" y="0" font-size="6.7" text-anchor="middle" fill="#111" stroke="#111" stroke-width="0.3" transform="translate(21.8,266.0) rotate(-90)">Normalized reads in region</text>
<line x1="44.9" y1="339.5" x2="44.9" y2="411.3" stroke="#111" stroke-width="2.0"/>
<line x1="41.70" y1="410.70" x2="44.9" y2="410.70" stroke="#111" stroke-width="1"/>
<text x="41.9" y="413.0" font-size="6.4" text-anchor="end" font-weight="normal" font-style="normal" fill="#111" stroke="#111" stroke-width="0.3">10</text>
<line x1="41.70" y1="375.30" x2="44.9" y2="375.30" stroke="#111" stroke-width="1"/>
<text x="41.9" y="377.6" font-size="6.4" text-anchor="end" font-weight="normal" font-style="normal" fill="#111" stroke="#111" stroke-width="0.3">100</text>
<line x1="41.70" y1="339.90" x2="44.9" y2="339.90" stroke="#111" stroke-width="1"/>
<text x="41.9" y="342.2" font-size="6.4" text-anchor="end" font-weight="normal" font-style="normal" fill="#111" stroke="#111" stroke-width="0.3">1000</text>
<line x1="43.3" y1="400.04" x2="44.9" y2="400.04" stroke="#111" stroke-width="0.6"/>
<line x1="43.3" y1="393.81" x2="44.9" y2="393.81" stroke="#111" stroke-width="0.6"/>
<line x1="43.3" y1="389.39" x2="44.9" y2="389.39" stroke="#111" stroke-width="0.6"/>
<line x1="43.3" y1="385.96" x2="44.9" y2="385.96" stroke="#111" stroke-width="0.6"/>
<line x1="43.3" y1="383.15" x2="44.9" y2="383.15" stroke="#111" stroke-width="0.6"/>
<line x1="43.3" y1="380.78" x2="44.9" y2="380.78" stroke="#111" stroke-width="0.6"/>
<line x1="43.3" y1="378.73" x2="44.9" y2="378.73" stroke="#111" stroke-width="0.6"/>
<line x1="43.3" y1="376.92" x2="44.9" y2="376.92" stroke="#111" stroke-width="0.6"/>
<line x1="43.3" y1="364.64" x2="44.9" y2="364.64" stroke="#111" stroke-width="0.6"/>
<line x1="43.3" y1="358.41" x2="44.9" y2="358.41" stroke="#111" stroke-width="0.6"/>
<line x1="43.3" y1="353.99" x2="44.9" y2="353.99" stroke="#111" stroke-width="0.6"/>
<line x1="43.3" y1="350.56" x2="44.9" y2="350.56" stroke="#111" stroke-width="0.6"/>
<line x1="43.3" y1="347.75" x2="44.9" y2="347.75" stroke="#111" stroke-width="0.6"/>
<line x1="43.3" y1="345.38" x2="44.9" y2="345.38" stroke="#111" stroke-width="0.6"/>
<line x1="43.3" y1="343.33" x2="44.9" y2="343.33" stroke="#111" stroke-width="0.6"/>
<line x1="43.3" y1="341.52" x2="44.9" y2="341.52" stroke="#111" stroke-width="0.6"/>
<line x1="44.1" y1="410.7" x2="170.9" y2="410.7" stroke="#111" stroke-width="1.4"/>
<text x="108.2" y="337.0" font-size="6.8" text-anchor="middle" font-weight="normal" font-style="normal" fill="#111" stroke="#111" stroke-width="0.3">H3K9ac</text>
<line x1="52.55" y1="379.0" x2="52.55" y2="375.4" stroke="#333" stroke-width="1.1"/>
<rect x="50.85" y="375.2" width="3.4" height="1.1" fill="#333"/>
<rect x="49.60" y="379.0" width="5.9" height="31.70" fill="#126b1b" stroke="#0a3a10" stroke-width="0.5"/>
<line x1="59.25" y1="363.4" x2="59.25" y2="359.5" stroke="#333" stroke-width="1.1"/>
<rect x="57.55" y="359.3" width="3.4" height="1.1" fill="#333"/>
<rect x="56.60" y="363.4" width="5.30" height="47.30" fill="#6cc866" stroke="#3a8a3a" stroke-width="0.5"/>
<line x1="65.6" y1="365.7" x2="65.6" y2="361.6" stroke="#333" stroke-width="1.1"/>
<rect x="63.90" y="361.40" width="3.4" height="1.1" fill="#333"/>
<rect x="62.9" y="365.7" width="5.40" height="45.0" fill="#e5f6e0" stroke="#9a9a9a" stroke-width="0.8"/>
<line x1="58.95" y1="410.7" x2="58.95" y2="413.2" stroke="#111" stroke-width="1"/>
<text x="58.95" y="421.4" font-size="6.6" text-anchor="middle" font-weight="normal" font-style="italic" fill="#222" stroke="#222" stroke-width="0.3">HBB</text>
<line x1="77.35" y1="385.0" x2="77.35" y2="379.2" stroke="#333" stroke-width="1.1"/>
<rect x="75.65" y="379.0" width="3.4" height="1.1" fill="#333"/>
<rect x="74.6" y="385.0" width="5.50" height="25.70" fill="#126b1b" stroke="#0a3a10" stroke-width="0.5"/>
<line x1="83.70" y1="368.1" x2="83.70" y2="362.8" stroke="#333" stroke-width="1.1"/>
<rect x="82.00" y="362.6" width="3.4" height="1.1" fill="#333"/>
<rect x="80.90" y="368.1" width="5.60" height="42.60" fill="#6cc866" stroke="#3a8a3a" stroke-width="0.5"/>
<line x1="90.05" y1="369.3" x2="90.05" y2="365.3" stroke="#333" stroke-width="1.1"/>
<rect x="88.35" y="365.1" width="3.4" height="1.1" fill="#333"/>
<rect x="87.40" y="369.3" width="5.30" height="41.40" fill="#e5f6e0" stroke="#9a9a9a" stroke-width="0.8"/>
<line x1="83.65" y1="410.7" x2="83.65" y2="413.2" stroke="#111" stroke-width="1"/>
<text x="83.65" y="421.4" font-size="6.6" text-anchor="middle" font-weight="normal" font-style="italic" fill="#222" stroke="#222" stroke-width="0.3">HBD</text>
<line x1="102.20" y1="360.2" x2="102.20" y2="355.2" stroke="#333" stroke-width="1.1"/>
<rect x="100.50" y="355.0" width="3.4" height="1.1" fill="#333"/>
<rect x="99.40" y="360.2" width="5.60" height="50.5" fill="#126b1b" stroke="#0a3a10" stroke-width="0.5"/>
<line x1="108.6" y1="385.0" x2="108.6" y2="381.6" stroke="#333" stroke-width="1.1"/>
<rect x="106.90" y="381.40" width="3.4" height="1.1" fill="#333"/>
<rect x="106.0" y="385.0" width="5.20" height="25.70" fill="#6cc866" stroke="#3a8a3a" stroke-width="0.5"/>
<line x1="114.85" y1="374.3" x2="114.85" y2="368.9" stroke="#333" stroke-width="1.1"/>
<rect x="113.15" y="368.7" width="3.4" height="1.1" fill="#333"/>
<rect x="112.1" y="374.3" width="5.50" height="36.40" fill="#e5f6e0" stroke="#9a9a9a" stroke-width="0.8"/>
<line x1="108.5" y1="410.7" x2="108.5" y2="413.2" stroke="#111" stroke-width="1"/>
<text x="108.5" y="421.4" font-size="6.6" text-anchor="middle" font-weight="normal" font-style="italic" fill="#222" stroke="#222" stroke-width="0.3">HBG1</text>
<line x1="127.25" y1="361.5" x2="127.25" y2="356.7" stroke="#333" stroke-width="1.1"/>
<rect x="125.55" y="356.5" width="3.4" height="1.1" fill="#333"/>
<rect x="124.40" y="361.5" width="5.70" height="49.20" fill="#126b1b" stroke="#0a3a10" stroke-width="0.5"/>
<line x1="133.60" y1="385.8" x2="133.60" y2="380.6" stroke="#333" stroke-width="1.1"/>
<rect x="131.90" y="380.40" width="3.4" height="1.1" fill="#333"/>
<rect x="131.10" y="385.8" width="5.00" height="24.90" fill="#6cc866" stroke="#3a8a3a" stroke-width="0.5"/>
<line x1="139.6" y1="377.5" x2="139.6" y2="373.2" stroke="#333" stroke-width="1.1"/>
<rect x="137.9" y="373.0" width="3.4" height="1.1" fill="#333"/>
<rect x="136.9" y="377.5" width="5.4" height="33.20" fill="#e5f6e0" stroke="#9a9a9a" stroke-width="0.8"/>
<line x1="133.35" y1="410.7" x2="133.35" y2="413.2" stroke="#111" stroke-width="1"/>
<text x="133.35" y="421.4" font-size="6.6" text-anchor="middle" font-weight="normal" font-style="italic" fill="#222" stroke="#222" stroke-width="0.3">HBG2</text>
<line x1="152.25" y1="355.6" x2="152.25" y2="351.5" stroke="#333" stroke-width="1.1"/>
<rect x="150.55" y="351.3" width="3.4" height="1.1" fill="#333"/>
<rect x="149.4" y="355.6" width="5.70" height="55.10" fill="#126b1b" stroke="#0a3a10" stroke-width="0.5"/>
<line x1="158.6" y1="352.1" x2="158.6" y2="348.0" stroke="#333" stroke-width="1.1"/>
<rect x="156.9" y="347.8" width="3.4" height="1.1" fill="#333"/>
<rect x="155.9" y="352.1" width="5.4" height="58.60" fill="#6cc866" stroke="#3a8a3a" stroke-width="0.5"/>
<line x1="164.85" y1="350.7" x2="164.85" y2="346.3" stroke="#333" stroke-width="1.1"/>
<rect x="163.15" y="346.1" width="3.4" height="1.1" fill="#333"/>
<rect x="162.20" y="350.7" width="5.30" height="60.0" fill="#e5f6e0" stroke="#9a9a9a" stroke-width="0.8"/>
<line x1="158.45" y1="410.7" x2="158.45" y2="413.2" stroke="#111" stroke-width="1"/>
<text x="158.45" y="421.4" font-size="6.3" text-anchor="middle" font-weight="normal" font-style="normal" fill="#222" stroke="#222" stroke-width="0.3">LCR</text>
<path d="M51.60,366.50L53.40,367.50M51.60,367.50L53.40,366.50M52.50,366.05L52.50,367.95" stroke="#222" stroke-width="0.75"/>
<path d="M51.60,368.80L53.40,369.80M51.60,369.80L53.40,368.80M52.50,368.35L52.50,370.25" stroke="#222" stroke-width="0.75"/>
<path d="M51.60,371.10L53.40,372.10M51.60,372.10L53.40,371.10M52.50,370.65L52.50,372.55" stroke="#222" stroke-width="0.75"/>
<path d="M76.30,372.10L78.10,373.10M76.30,373.10L78.10,372.10M77.20,371.65L77.20,373.55" stroke="#222" stroke-width="0.75"/>
<path d="M76.30,374.40L78.10,375.40M76.30,375.40L78.10,374.40M77.20,373.95L77.20,375.85" stroke="#222" stroke-width="0.75"/>
<path d="M101.30,346.60L103.10,347.60M101.30,347.60L103.10,346.60M102.20,346.15L102.20,348.05" stroke="#222" stroke-width="0.75"/>
<path d="M101.30,348.90L103.10,349.90M101.30,349.90L103.10,348.90M102.20,348.45L102.20,350.35" stroke="#222" stroke-width="0.75"/>
<path d="M101.30,351.20L103.10,352.20M101.30,352.20L103.10,351.20M102.20,350.75L102.20,352.65" stroke="#222" stroke-width="0.75"/>
<path d="M113.90,364.30L115.70,365.30M113.90,365.30L115.70,364.30M114.80,363.85L114.80,365.75" stroke="#222" stroke-width="0.75"/>
<path d="M126.40,347.70L128.20,348.70M126.40,348.70L128.20,347.70M127.30,347.25L127.30,349.15" stroke="#222" stroke-width="0.75"/>
<path d="M126.40,350.00L128.20,351.00M126.40,351.00L128.20,350.00M127.30,349.55L127.30,351.45" stroke="#222" stroke-width="0.75"/>
<path d="M126.40,352.30L128.20,353.30M126.40,353.30L128.20,352.30M127.30,351.85L127.30,353.75" stroke="#222" stroke-width="0.75"/>
<path d="M138.70,368.80L140.50,369.80M138.70,369.80L140.50,368.80M139.60,368.35L139.60,370.25" stroke="#222" stroke-width="0.75"/>
<rect x="178.2" y="342.5" width="8.6" height="4.9" fill="#126b1b" stroke="#444" stroke-width="0.7"/>
<text x="190.80" y="347.7" font-size="7" text-anchor="start" font-weight="normal" font-style="normal" fill="#111" stroke="#111" stroke-width="0.32">Cord blood</text>
<rect x="178.2" y="351.0" width="8.6" height="4.9" fill="#6cc866" stroke="#444" stroke-width="0.7"/>
<text x="190.80" y="356.2" font-size="7" text-anchor="start" font-weight="normal" font-style="normal" fill="#111" stroke="#111" stroke-width="0.32">Adult</text>
<rect x="178.2" y="359.5" width="8.6" height="4.9" fill="#e5f6e0" stroke="#888" stroke-width="0.7"/>
<text x="190.80" y="364.7" font-size="7" text-anchor="start" font-weight="normal" font-style="normal" fill="#111" stroke="#111" stroke-width="0.32">Adult + UNC0638</text>
<text x="0" y="0" font-size="6.7" text-anchor="middle" fill="#111" stroke="#111" stroke-width="0.3" transform="translate(21.8,374.0) rotate(-90)">Normalized reads in region</text>
<text x="275.6" y="237.5" font-size="11.5" text-anchor="start" font-weight="bold" font-style="normal" fill="#111" stroke="#111" stroke-width="0.3">C</text>
<rect x="308.0" y="243.4" width="175.0" height="152.6" fill="none" stroke="#666" stroke-width="1"/>
<line x1="305.0" y1="390.5" x2="308.0" y2="390.5" stroke="#444" stroke-width="0.8"/>
<text x="0" y="0" font-size="6.2" text-anchor="middle" fill="#111" stroke="#111" stroke-width="0.3" transform="translate(299.0,390.5) rotate(-90)">0</text>
<line x1="305.0" y1="361.5" x2="308.0" y2="361.5" stroke="#444" stroke-width="0.8"/>
<text x="0" y="0" font-size="6.2" text-anchor="middle" fill="#111" stroke="#111" stroke-width="0.3" transform="translate(299.0,361.5) rotate(-90)">20</text>
<line x1="305.0" y1="332.5" x2="308.0" y2="332.5" stroke="#444" stroke-width="0.8"/>
<text x="0" y="0" font-size="6.2" text-anchor="middle" fill="#111" stroke="#111" stroke-width="0.3" transform="translate(299.0,332.5) rotate(-90)">40</text>
<line x1="305.0" y1="303.6" x2="308.0" y2="303.6" stroke="#444" stroke-width="0.8"/>
<text x="0" y="0" font-size="6.2" text-anchor="middle" fill="#111" stroke="#111" stroke-width="0.3" transform="translate(299.0,303.6) rotate(-90)">60</text>
<line x1="305.0" y1="274.6" x2="308.0" y2="274.6" stroke="#444" stroke-width="0.8"/>
<text x="0" y="0" font-size="6.2" text-anchor="middle" fill="#111" stroke="#111" stroke-width="0.3" transform="translate(299.0,274.6) rotate(-90)">80</text>
<line x1="305.0" y1="245.6" x2="308.0" y2="245.6" stroke="#444" stroke-width="0.8"/>
<text x="0" y="0" font-size="6.2" text-anchor="middle" fill="#111" stroke="#111" stroke-width="0.3" transform="translate(299.0,245.6) rotate(-90)">100</text>
<line x1="336.4" y1="396.0" x2="336.4" y2="399.2" stroke="#444" stroke-width="0.8"/>
<text x="336.4" y="410.2" font-size="6.1" text-anchor="middle" font-weight="normal" font-style="normal" fill="#111" stroke="#111" stroke-width="0.3">−4</text>
<line x1="367.3" y1="396.0" x2="367.3" y2="399.2" stroke="#444" stroke-width="0.8"/>
<text x="367.3" y="410.2" font-size="6.1" text-anchor="middle" font-weight="normal" font-style="normal" fill="#111" stroke="#111" stroke-width="0.3">−2</text>
<line x1="398.2" y1="396.0" x2="398.2" y2="399.2" stroke="#444" stroke-width="0.8"/>
<text x="398.2" y="410.2" font-size="6.1" text-anchor="middle" font-weight="normal" font-style="normal" fill="#111" stroke="#111" stroke-width="0.3">0</text>
<line x1="429.1" y1="396.0" x2="429.1" y2="399.2" stroke="#444" stroke-width="0.8"/>
<text x="429.1" y="410.2" font-size="6.1" text-anchor="middle" font-weight="normal" font-style="normal" fill="#111" stroke="#111" stroke-width="0.3">2</text>
<line x1="460.0" y1="396.0" x2="460.0" y2="399.2" stroke="#444" stroke-width="0.8"/>
<text x="460.0" y="410.2" font-size="6.1" text-anchor="middle" font-weight="normal" font-style="normal" fill="#111" stroke="#111" stroke-width="0.3">4</text>
<text x="373" y="420.9" font-size="6.85" fill="#111" stroke="#111" stroke-width="0.3">Log<tspan font-size="4.8" dy="1.6">2</tspan><tspan dy="-1.6"> fold change</tspan></text>
<text x="0" y="0" font-size="7.1" fill="#111" stroke="#111" stroke-width="0.3" transform="translate(284.9,343.2) rotate(-90)">- Log<tspan font-size="4.8" dy="1.6">10</tspan><tspan dy="-1.6"> P-value</tspan></text>
<path d="M398.4,391 L391,380 L384.5,369.5 L381,366.5 L376,368 L371,377 L367.5,385 L366,391 Z" fill="#a0a0a0"/>
<path d="M398,391 L406,381 L412.5,370 L416.5,364 L421.5,364 L426,370 L431,378.5 L435,386 L437,391 Z" fill="#a0a0a0"/>
<circle cx="314.5" cy="248.5" r="1.45" fill="none" stroke="#999" stroke-width="0.6"/>
<circle cx="350.5" cy="315.4" r="1.45" fill="none" stroke="#999" stroke-width="0.6"/>
<circle cx="345.7" cy="318.6" r="1.45" fill="none" stroke="#999" stroke-width="0.6"/>
<circle cx="339.2" cy="321.3" r="1.45" fill="none" stroke="#999" stroke-width="0.6"/>
<circle cx="343.2" cy="324.2" r="1.45" fill="none" stroke="#999" stroke-width="0.6"/>
<circle cx="360.5" cy="324.2" r="1.45" fill="none" stroke="#999" stroke-width="0.6"/>
<circle cx="365.7" cy="327.4" r="1.45" fill="none" stroke="#999" stroke-width="0.6"/>
<circle cx="332.0" cy="331.9" r="1.45" fill="none" stroke="#999" stroke-width="0.6"/>
<circle cx="341.0" cy="331.0" r="1.45" fill="none" stroke="#999" stroke-width="0.6"/>
<circle cx="350.4" cy="333.7" r="1.45" fill="none" stroke="#999" stroke-width="0.6"/>
<circle cx="366.1" cy="339.3" r="1.45" fill="none" stroke="#999" stroke-width="0.6"/>
<circle cx="372.4" cy="340.8" r="1.45" fill="none" stroke="#999" stroke-width="0.6"/>
<circle cx="354.4" cy="343.8" r="1.45" fill="none" stroke="#999" stroke-width="0.6"/>
<circle cx="363.9" cy="346.0" r="1.45" fill="none" stroke="#999" stroke-width="0.6"/>
<circle cx="349.3" cy="347.1" r="1.45" fill="none" stroke="#999" stroke-width="0.6"/>
<circle cx="356.0" cy="351.6" r="1.45" fill="none" stroke="#999" stroke-width="0.6"/>
<circle cx="374.0" cy="350.5" r="1.45" fill="none" stroke="#999" stroke-width="0.6"/>
<circle cx="375.0" cy="353.4" r="1.45" fill="none" stroke="#999" stroke-width="0.6"/>
<circle cx="321.2" cy="357.9" r="1.45" fill="none" stroke="#999" stroke-width="0.6"/>
<circle cx="361.6" cy="355.0" r="1.45" fill="none" stroke="#999" stroke-width="0.6"/>
<circle cx="333.6" cy="365.5" r="1.45" fill="none" stroke="#999" stroke-width="0.6"/>
<circle cx="343.7" cy="365.5" r="1.45" fill="none" stroke="#999" stroke-width="0.6"/>
<circle cx="334.2" cy="368.4" r="1.45" fill="none" stroke="#999" stroke-width="0.6"/>
<circle cx="344.8" cy="368.4" r="1.45" fill="none" stroke="#999" stroke-width="0.6"/>
<circle cx="339.2" cy="370.7" r="1.45" fill="none" stroke="#999" stroke-width="0.6"/>
<circle cx="351.5" cy="367.3" r="1.45" fill="none" stroke="#999" stroke-width="0.6"/>
<circle cx="438.3" cy="295.7" r="1.45" fill="none" stroke="#999" stroke-width="0.6"/>
<circle cx="440.4" cy="301.3" r="1.45" fill="none" stroke="#999" stroke-width="0.6"/>
<circle cx="435.1" cy="305.5" r="1.45" fill="none" stroke="#999" stroke-width="0.6"/>
<circle cx="446.4" cy="308.1" r="1.45" fill="none" stroke="#999" stroke-width="0.6"/>
<circle cx="435.7" cy="312.8" r="1.45" fill="none" stroke="#999" stroke-width="0.6"/>
<circle cx="447.9" cy="319.1" r="1.45" fill="none" stroke="#999" stroke-width="0.6"/>
<circle cx="448.5" cy="323.6" r="1.45" fill="none" stroke="#999" stroke-width="0.6"/>
<circle cx="433.0" cy="327.2" r="1.45" fill="none" stroke="#999" stroke-width="0.6"/>
<circle cx="467.7" cy="296.4" r="1.45" fill="none" stroke="#999" stroke-width="0.6"/>
<circle cx="473.4" cy="303.4" r="1.45" fill="none" stroke="#999" stroke-width="0.6"/>
<circle cx="427.7" cy="330.0" r="1.45" fill="none" stroke="#999" stroke-width="0.6"/>
<circle cx="433.4" cy="326.7" r="1.45" fill="none" stroke="#999" stroke-width="0.6"/>
<circle cx="428.4" cy="330.6" r="1.45" fill="none" stroke="#999" stroke-width="0.6"/>
<circle cx="432.0" cy="339.2" r="1.45" fill="none" stroke="#999" stroke-width="0.6"/>
<circle cx="437.3" cy="339.2" r="1.45" fill="none" stroke="#999" stroke-width="0.6"/>
<circle cx="442.2" cy="339.9" r="1.45" fill="none" stroke="#999" stroke-width="0.6"/>
<circle cx="426.3" cy="342.2" r="1.45" fill="none" stroke="#999" stroke-width="0.6"/>
<circle cx="429.8" cy="342.5" r="1.45" fill="none" stroke="#999" stroke-width="0.6"/>
<circle cx="426.6" cy="346.6" r="1.45" fill="none" stroke="#999" stroke-width="0.6"/>
<circle cx="422.2" cy="350.2" r="1.45" fill="none" stroke="#999" stroke-width="0.6"/>
<circle cx="429.3" cy="351.6" r="1.45" fill="none" stroke="#999" stroke-width="0.6"/>
<circle cx="433.7" cy="352.8" r="1.45" fill="none" stroke="#999" stroke-width="0.6"/>
<circle cx="437.3" cy="352.8" r="1.45" fill="none" stroke="#999" stroke-width="0.6"/>
<circle cx="443.5" cy="352.3" r="1.45" fill="none" stroke="#999" stroke-width="0.6"/>
<circle cx="445.5" cy="352.3" r="1.45" fill="none" stroke="#999" stroke-width="0.6"/>
<circle cx="455.4" cy="353.7" r="1.45" fill="none" stroke="#999" stroke-width="0.6"/>
<circle cx="444.4" cy="356.4" r="1.45" fill="none" stroke="#999" stroke-width="0.6"/>
<circle cx="445.8" cy="359.9" r="1.45" fill="none" stroke="#999" stroke-width="0.6"/>
<circle cx="451.5" cy="364.0" r="1.45" fill="none" stroke="#999" stroke-width="0.6"/>
<circle cx="459.4" cy="364.0" r="1.45" fill="none" stroke="#999" stroke-width="0.6"/>
<circle cx="466.5" cy="363.5" r="1.45" fill="none" stroke="#999" stroke-width="0.6"/>
<circle cx="474.5" cy="360.0" r="1.45" fill="none" stroke="#999" stroke-width="0.6"/>
<circle cx="445.3" cy="370.6" r="1.45" fill="none" stroke="#999" stroke-width="0.6"/>
<circle cx="451.5" cy="370.9" r="1.45" fill="none" stroke="#999" stroke-width="0.6"/>
<circle cx="459.4" cy="370.0" r="1.45" fill="none" stroke="#999" stroke-width="0.6"/>
<circle cx="464.8" cy="371.5" r="1.45" fill="none" stroke="#999" stroke-width="0.6"/>
<circle cx="476.7" cy="370.6" r="1.45" fill="none" stroke="#999" stroke-width="0.6"/>
<circle cx="470.1" cy="376.4" r="1.45" fill="none" stroke="#999" stroke-width="0.6"/>
<circle cx="442.6" cy="376.4" r="1.45" fill="none" stroke="#999" stroke-width="0.6"/>
<circle cx="331.5" cy="331.6" r="1.45" fill="none" stroke="#999" stroke-width="0.6"/>
<circle cx="340.6" cy="331.3" r="1.45" fill="none" stroke="#999" stroke-width="0.6"/>
<circle cx="343.4" cy="325.0" r="1.45" fill="none" stroke="#999" stroke-width="0.6"/>
<circle cx="360.5" cy="325.0" r="1.45" fill="none" stroke="#999" stroke-width="0.6"/>
<circle cx="365.4" cy="327.0" r="1.45" fill="none" stroke="#999" stroke-width="0.6"/>
<circle cx="366.3" cy="339.6" r="1.45" fill="none" stroke="#999" stroke-width="0.6"/>
<circle cx="354.3" cy="344.0" r="1.45" fill="none" stroke="#999" stroke-width="0.6"/>
<circle cx="349.4" cy="346.9" r="1.45" fill="none" stroke="#999" stroke-width="0.6"/>
<circle cx="363.8" cy="346.2" r="1.45" fill="none" stroke="#999" stroke-width="0.6"/>
<circle cx="355.5" cy="351.5" r="1.45" fill="none" stroke="#999" stroke-width="0.6"/>
<circle cx="361.3" cy="355.1" r="1.45" fill="none" stroke="#999" stroke-width="0.6"/>
<circle cx="333.1" cy="365.6" r="1.45" fill="none" stroke="#999" stroke-width="0.6"/>
<circle cx="334.0" cy="368.9" r="1.45" fill="none" stroke="#999" stroke-width="0.6"/>
<circle cx="344.4" cy="365.6" r="1.45" fill="none" stroke="#999" stroke-width="0.6"/>
<circle cx="344.7" cy="368.9" r="1.45" fill="none" stroke="#999" stroke-width="0.6"/>
<circle cx="339.0" cy="371.0" r="1.45" fill="none" stroke="#999" stroke-width="0.6"/>
<circle cx="351.0" cy="367.2" r="1.45" fill="none" stroke="#999" stroke-width="0.6"/>
<circle cx="353.0" cy="371.4" r="1.45" fill="none" stroke="#999" stroke-width="0.6"/>
<circle cx="354.7" cy="375.5" r="1.45" fill="none" stroke="#999" stroke-width="0.6"/>
<circle cx="358.0" cy="369.4" r="1.45" fill="none" stroke="#999" stroke-width="0.6"/>
<circle cx="359.8" cy="376.2" r="1.45" fill="none" stroke="#999" stroke-width="0.6"/>
<circle cx="376.5" cy="368.6" r="1.45" fill="none" stroke="#999" stroke-width="0.6"/>
<circle cx="359.0" cy="372.4" r="1.45" fill="none" stroke="#999" stroke-width="0.6"/>
<circle cx="372.6" cy="382.3" r="1.45" fill="none" stroke="#999" stroke-width="0.6"/>
<circle cx="359.9" cy="362.0" r="1.45" fill="none" stroke="#999" stroke-width="0.6"/>
<circle cx="374.3" cy="377.0" r="1.45" fill="none" stroke="#999" stroke-width="0.6"/>
<circle cx="380.5" cy="381.4" r="1.45" fill="none" stroke="#999" stroke-width="0.6"/>
<circle cx="368.2" cy="370.7" r="1.45" fill="none" stroke="#999" stroke-width="0.6"/>
<circle cx="363.1" cy="363.3" r="1.45" fill="none" stroke="#999" stroke-width="0.6"/>
<circle cx="369.7" cy="374.2" r="1.45" fill="none" stroke="#999" stroke-width="0.6"/>
<circle cx="366.4" cy="372.5" r="1.45" fill="none" stroke="#999" stroke-width="0.6"/>
<circle cx="371.0" cy="378.9" r="1.45" fill="none" stroke="#999" stroke-width="0.6"/>
<circle cx="377.2" cy="374.8" r="1.45" fill="none" stroke="#999" stroke-width="0.6"/>
<circle cx="355.6" cy="379.0" r="1.45" fill="none" stroke="#999" stroke-width="0.6"/>
<circle cx="358.4" cy="371.5" r="1.45" fill="none" stroke="#999" stroke-width="0.6"/>
<circle cx="357.9" cy="373.0" r="1.45" fill="none" stroke="#999" stroke-width="0.6"/>
<circle cx="363.2" cy="374.8" r="1.45" fill="none" stroke="#999" stroke-width="0.6"/>
<circle cx="375.3" cy="361.8" r="1.45" fill="none" stroke="#999" stroke-width="0.6"/>
<circle cx="366.8" cy="378.6" r="1.45" fill="none" stroke="#999" stroke-width="0.6"/>
<circle cx="368.3" cy="376.1" r="1.45" fill="none" stroke="#999" stroke-width="0.6"/>
<circle cx="369.8" cy="364.4" r="1.45" fill="none" stroke="#999" stroke-width="0.6"/>
<circle cx="373.2" cy="366.1" r="1.45" fill="none" stroke="#999" stroke-width="0.6"/>
<circle cx="383.0" cy="368.7" r="1.45" fill="none" stroke="#999" stroke-width="0.6"/>
<circle cx="374.1" cy="373.0" r="1.45" fill="none" stroke="#999" stroke-width="0.6"/>
<circle cx="376.1" cy="367.9" r="1.45" fill="none" stroke="#999" stroke-width="0.6"/>
<circle cx="376.5" cy="371.9" r="1.45" fill="none" stroke="#999" stroke-width="0.6"/>
<circle cx="378.5" cy="378.3" r="1.45" fill="none" stroke="#999" stroke-width="0.6"/>
<circle cx="370.1" cy="366.4" r="1.45" fill="none" stroke="#999" stroke-width="0.6"/>
<circle cx="374.8" cy="377.0" r="1.45" fill="none" stroke="#999" stroke-width="0.6"/>
<circle cx="381.3" cy="369.8" r="1.45" fill="none" stroke="#999" stroke-width="0.6"/>
<circle cx="373.2" cy="377.3" r="1.45" fill="none" stroke="#999" stroke-width="0.6"/>
<circle cx="371.1" cy="374.8" r="1.45" fill="none" stroke="#999" stroke-width="0.6"/>
<circle cx="370.4" cy="367.9" r="1.45" fill="none" stroke="#999" stroke-width="0.6"/>
<circle cx="361.4" cy="369.6" r="1.45" fill="none" stroke="#999" stroke-width="0.6"/>
<circle cx="373.4" cy="385.8" r="1.45" fill="none" stroke="#999" stroke-width="0.6"/>
<circle cx="376.3" cy="382.0" r="1.45" fill="none" stroke="#999" stroke-width="0.6"/>
<circle cx="374.8" cy="378.9" r="1.45" fill="none" stroke="#999" stroke-width="0.6"/>
<circle cx="370.4" cy="379.6" r="1.45" fill="none" stroke="#999" stroke-width="0.6"/>
<circle cx="382.3" cy="370.2" r="1.45" fill="none" stroke="#999" stroke-width="0.6"/>
<circle cx="363.8" cy="389.7" r="1.45" fill="none" stroke="#999" stroke-width="0.6"/>
<circle cx="370.8" cy="381.3" r="1.45" fill="none" stroke="#999" stroke-width="0.6"/>
<circle cx="375.6" cy="363.3" r="1.45" fill="none" stroke="#999" stroke-width="0.6"/>
<circle cx="387.3" cy="388.1" r="1.45" fill="none" stroke="#999" stroke-width="0.6"/>
<circle cx="370.3" cy="379.4" r="1.45" fill="none" stroke="#999" stroke-width="0.6"/>
<circle cx="370.0" cy="365.5" r="1.45" fill="none" stroke="#999" stroke-width="0.6"/>
<circle cx="368.2" cy="376.2" r="1.45" fill="none" stroke="#999" stroke-width="0.6"/>
<circle cx="377.4" cy="379.0" r="1.45" fill="none" stroke="#999" stroke-width="0.6"/>
<circle cx="369.4" cy="384.5" r="1.45" fill="none" stroke="#999" stroke-width="0.6"/>
<circle cx="363.3" cy="379.7" r="1.45" fill="none" stroke="#999" stroke-width="0.6"/>
<circle cx="377.3" cy="370.5" r="1.45" fill="none" stroke="#999" stroke-width="0.6"/>
<circle cx="355.6" cy="365.3" r="1.45" fill="none" stroke="#999" stroke-width="0.6"/>
<circle cx="370.8" cy="377.5" r="1.45" fill="none" stroke="#999" stroke-width="0.6"/>
<circle cx="380.6" cy="364.5" r="1.45" fill="none" stroke="#999" stroke-width="0.6"/>
<circle cx="369.0" cy="378.5" r="1.45" fill="none" stroke="#999" stroke-width="0.6"/>
<circle cx="367.8" cy="352.9" r="1.45" fill="none" stroke="#999" stroke-width="0.6"/>
<circle cx="376.5" cy="365.2" r="1.45" fill="none" stroke="#999" stroke-width="0.6"/>
<circle cx="365.9" cy="374.9" r="1.45" fill="none" stroke="#999" stroke-width="0.6"/>
<circle cx="387.7" cy="378.2" r="1.45" fill="none" stroke="#999" stroke-width="0.6"/>
<circle cx="369.9" cy="386.2" r="1.45" fill="none" stroke="#999" stroke-width="0.6"/>
<circle cx="368.4" cy="388.8" r="1.45" fill="none" stroke="#999" stroke-width="0.6"/>
<circle cx="363.9" cy="369.0" r="1.45" fill="none" stroke="#999" stroke-width="0.6"/>
<circle cx="374.4" cy="385.1" r="1.45" fill="none" stroke="#999" stroke-width="0.6"/>
<circle cx="373.9" cy="375.6" r="1.45" fill="none" stroke="#999" stroke-width="0.6"/>
<circle cx="355.3" cy="366.9" r="1.45" fill="none" stroke="#999" stroke-width="0.6"/>
<circle cx="364.4" cy="368.5" r="1.45" fill="none" stroke="#999" stroke-width="0.6"/>
<circle cx="373.4" cy="370.2" r="1.45" fill="none" stroke="#999" stroke-width="0.6"/>
<circle cx="374.9" cy="373.7" r="1.45" fill="none" stroke="#999" stroke-width="0.6"/>
<circle cx="366.5" cy="374.0" r="1.45" fill="none" stroke="#999" stroke-width="0.6"/>
<circle cx="372.2" cy="380.3" r="1.45" fill="none" stroke="#999" stroke-width="0.6"/>
<circle cx="365.4" cy="371.0" r="1.45" fill="none" stroke="#999" stroke-width="0.6"/>
<circle cx="358.8" cy="386.6" r="1.45" fill="none" stroke="#999" stroke-width="0.6"/>
<circle cx="379.9" cy="371.5" r="1.45" fill="none" stroke="#999" stroke-width="0.6"/>
<circle cx="365.4" cy="362.5" r="1.45" fill="none" stroke="#999" stroke-width="0.6"/>
<circle cx="370.3" cy="374.8" r="1.45" fill="none" stroke="#999" stroke-width="0.6"/>
<circle cx="385.4" cy="375.1" r="1.45" fill="none" stroke="#999" stroke-width="0.6"/>
<circle cx="363.2" cy="352.2" r="1.45" fill="none" stroke="#999" stroke-width="0.6"/>
<circle cx="379.6" cy="374.6" r="1.45" fill="none" stroke="#999" stroke-width="0.6"/>
<circle cx="356.9" cy="374.5" r="1.45" fill="none" stroke="#999" stroke-width="0.6"/>
<circle cx="377.4" cy="377.9" r="1.45" fill="none" stroke="#999" stroke-width="0.6"/>
<circle cx="367.7" cy="354.8" r="1.45" fill="none" stroke="#999" stroke-width="0.6"/>
<circle cx="368.1" cy="359.8" r="1.45" fill="none" stroke="#999" stroke-width="0.6"/>
<circle cx="373.5" cy="354.8" r="1.45" fill="none" stroke="#999" stroke-width="0.6"/>
<circle cx="362.2" cy="383.4" r="1.45" fill="none" stroke="#999" stroke-width="0.6"/>
<circle cx="357.5" cy="380.5" r="1.45" fill="none" stroke="#999" stroke-width="0.6"/>
<circle cx="375.4" cy="364.6" r="1.45" fill="none" stroke="#999" stroke-width="0.6"/>
<circle cx="363.8" cy="367.1" r="1.45" fill="none" stroke="#999" stroke-width="0.6"/>
<circle cx="360.1" cy="367.2" r="1.45" fill="none" stroke="#999" stroke-width="0.6"/>
<circle cx="378.4" cy="378.9" r="1.45" fill="none" stroke="#999" stroke-width="0.6"/>
<circle cx="384.4" cy="372.3" r="1.45" fill="none" stroke="#999" stroke-width="0.6"/>
<circle cx="368.0" cy="364.6" r="1.45" fill="none" stroke="#999" stroke-width="0.6"/>
<circle cx="368.1" cy="361.8" r="1.45" fill="none" stroke="#999" stroke-width="0.6"/>
<circle cx="355.7" cy="378.9" r="1.45" fill="none" stroke="#999" stroke-width="0.6"/>
<circle cx="379.8" cy="380.1" r="1.45" fill="none" stroke="#999" stroke-width="0.6"/>
<circle cx="379.0" cy="375.1" r="1.45" fill="none" stroke="#999" stroke-width="0.6"/>
<circle cx="363.6" cy="373.7" r="1.45" fill="none" stroke="#999" stroke-width="0.6"/>
<circle cx="366.2" cy="363.6" r="1.45" fill="none" stroke="#999" stroke-width="0.6"/>
<circle cx="356.3" cy="360.4" r="1.45" fill="none" stroke="#999" stroke-width="0.6"/>
<circle cx="369.0" cy="374.3" r="1.45" fill="none" stroke="#999" stroke-width="0.6"/>
<circle cx="365.4" cy="385.1" r="1.45" fill="none" stroke="#999" stroke-width="0.6"/>
<circle cx="370.3" cy="378.0" r="1.45" fill="none" stroke="#999" stroke-width="0.6"/>
<circle cx="378.1" cy="366.0" r="1.45" fill="none" stroke="#999" stroke-width="0.6"/>
<circle cx="354.2" cy="379.4" r="1.45" fill="none" stroke="#999" stroke-width="0.6"/>
<circle cx="363.8" cy="384.1" r="1.45" fill="none" stroke="#999" stroke-width="0.6"/>
<circle cx="371.5" cy="381.6" r="1.45" fill="none" stroke="#999" stroke-width="0.6"/>
<circle cx="374.7" cy="355.3" r="1.45" fill="none" stroke="#999" stroke-width="0.6"/>
<circle cx="374.4" cy="367.3" r="1.45" fill="none" stroke="#999" stroke-width="0.6"/>
<circle cx="363.3" cy="369.3" r="1.45" fill="none" stroke="#999" stroke-width="0.6"/>
<circle cx="374.8" cy="380.5" r="1.45" fill="none" stroke="#999" stroke-width="0.6"/>
<circle cx="376.6" cy="358.9" r="1.45" fill="none" stroke="#999" stroke-width="0.6"/>
<circle cx="364.6" cy="352.8" r="1.45" fill="none" stroke="#999" stroke-width="0.6"/>
<circle cx="368.2" cy="378.1" r="1.45" fill="none" stroke="#999" stroke-width="0.6"/>
<circle cx="363.3" cy="375.1" r="1.45" fill="none" stroke="#999" stroke-width="0.6"/>
<circle cx="370.7" cy="381.6" r="1.45" fill="none" stroke="#999" stroke-width="0.6"/>
<circle cx="362.8" cy="366.0" r="1.45" fill="none" stroke="#999" stroke-width="0.6"/>
<circle cx="363.3" cy="387.9" r="1.45" fill="none" stroke="#999" stroke-width="0.6"/>
<circle cx="377.2" cy="371.9" r="1.45" fill="none" stroke="#999" stroke-width="0.6"/>
<circle cx="370.7" cy="374.0" r="1.45" fill="none" stroke="#999" stroke-width="0.6"/>
<circle cx="370.5" cy="371.2" r="1.45" fill="none" stroke="#999" stroke-width="0.6"/>
<circle cx="366.5" cy="362.3" r="1.45" fill="none" stroke="#999" stroke-width="0.6"/>
<circle cx="364.2" cy="387.0" r="1.45" fill="none" stroke="#999" stroke-width="0.6"/>
<circle cx="373.0" cy="373.6" r="1.45" fill="none" stroke="#999" stroke-width="0.6"/>
<circle cx="367.4" cy="373.5" r="1.45" fill="none" stroke="#999" stroke-width="0.6"/>
<circle cx="371.7" cy="367.5" r="1.45" fill="none" stroke="#999" stroke-width="0.6"/>
<circle cx="370.5" cy="375.0" r="1.45" fill="none" stroke="#999" stroke-width="0.6"/>
<circle cx="363.4" cy="366.3" r="1.45" fill="none" stroke="#999" stroke-width="0.6"/>
<circle cx="361.5" cy="364.0" r="1.45" fill="none" stroke="#999" stroke-width="0.6"/>
<circle cx="375.7" cy="352.9" r="1.45" fill="none" stroke="#999" stroke-width="0.6"/>
<circle cx="367.0" cy="367.8" r="1.45" fill="none" stroke="#999" stroke-width="0.6"/>
<circle cx="364.4" cy="373.8" r="1.45" fill="none" stroke="#999" stroke-width="0.6"/>
<circle cx="377.5" cy="373.6" r="1.45" fill="none" stroke="#999" stroke-width="0.6"/>
<circle cx="367.9" cy="367.8" r="1.45" fill="none" stroke="#999" stroke-width="0.6"/>
<circle cx="368.0" cy="380.8" r="1.45" fill="none" stroke="#999" stroke-width="0.6"/>
<circle cx="366.0" cy="363.3" r="1.45" fill="none" stroke="#999" stroke-width="0.6"/>
<circle cx="359.5" cy="363.6" r="1.45" fill="none" stroke="#999" stroke-width="0.6"/>
<circle cx="358.6" cy="382.3" r="1.45" fill="none" stroke="#999" stroke-width="0.6"/>
<circle cx="371.7" cy="371.0" r="1.45" fill="none" stroke="#999" stroke-width="0.6"/>
<circle cx="379.9" cy="367.4" r="1.45" fill="none" stroke="#999" stroke-width="0.6"/>
<circle cx="374.6" cy="379.8" r="1.45" fill="none" stroke="#999" stroke-width="0.6"/>
<circle cx="357.4" cy="359.8" r="1.45" fill="none" stroke="#999" stroke-width="0.6"/>
<circle cx="362.0" cy="380.7" r="1.45" fill="none" stroke="#999" stroke-width="0.6"/>
<circle cx="378.7" cy="362.6" r="1.45" fill="none" stroke="#999" stroke-width="0.6"/>
<circle cx="376.9" cy="369.7" r="1.45" fill="none" stroke="#999" stroke-width="0.6"/>
<circle cx="366.0" cy="368.3" r="1.45" fill="none" stroke="#999" stroke-width="0.6"/>
<circle cx="366.6" cy="357.5" r="1.45" fill="none" stroke="#999" stroke-width="0.6"/>
<circle cx="361.5" cy="362.5" r="1.45" fill="none" stroke="#999" stroke-width="0.6"/>
<circle cx="372.7" cy="390.8" r="1.45" fill="none" stroke="#999" stroke-width="0.6"/>
<circle cx="356.1" cy="369.5" r="1.45" fill="none" stroke="#999" stroke-width="0.6"/>
<circle cx="362.0" cy="389.9" r="1.45" fill="none" stroke="#999" stroke-width="0.6"/>
<circle cx="373.3" cy="366.8" r="1.45" fill="none" stroke="#999" stroke-width="0.6"/>
<circle cx="376.0" cy="377.6" r="1.45" fill="none" stroke="#999" stroke-width="0.6"/>
<circle cx="417.8" cy="364.0" r="1.45" fill="none" stroke="#999" stroke-width="0.6"/>
<circle cx="428.2" cy="369.2" r="1.45" fill="none" stroke="#999" stroke-width="0.6"/>
<circle cx="431.0" cy="365.8" r="1.45" fill="none" stroke="#999" stroke-width="0.6"/>
<circle cx="431.4" cy="363.4" r="1.45" fill="none" stroke="#999" stroke-width="0.6"/>
<circle cx="423.3" cy="383.4" r="1.45" fill="none" stroke="#999" stroke-width="0.6"/>
<circle cx="432.7" cy="373.2" r="1.45" fill="none" stroke="#999" stroke-width="0.6"/>
<circle cx="418.0" cy="367.4" r="1.45" fill="none" stroke="#999" stroke-width="0.6"/>
<circle cx="436.1" cy="356.7" r="1.45" fill="none" stroke="#999" stroke-width="0.6"/>
<circle cx="438.2" cy="365.3" r="1.45" fill="none" stroke="#999" stroke-width="0.6"/>
<circle cx="433.0" cy="367.7" r="1.45" fill="none" stroke="#999" stroke-width="0.6"/>
<circle cx="431.6" cy="380.4" r="1.45" fill="none" stroke="#999" stroke-width="0.6"/>
<circle cx="427.0" cy="383.9" r="1.45" fill="none" stroke="#999" stroke-width="0.6"/>
<circle cx="424.1" cy="360.1" r="1.45" fill="none" stroke="#999" stroke-width="0.6"/>
<circle cx="435.3" cy="358.9" r="1.45" fill="none" stroke="#999" stroke-width="0.6"/>
<circle cx="427.2" cy="377.6" r="1.45" fill="none" stroke="#999" stroke-width="0.6"/>
<circle cx="439.1" cy="352.1" r="1.45" fill="none" stroke="#999" stroke-width="0.6"/>
<circle cx="433.8" cy="386.9" r="1.45" fill="none" stroke="#999" stroke-width="0.6"/>
<circle cx="439.0" cy="366.7" r="1.45" fill="none" stroke="#999" stroke-width="0.6"/>
<circle cx="425.5" cy="366.2" r="1.45" fill="none" stroke="#999" stroke-width="0.6"/>
<circle cx="421.4" cy="366.5" r="1.45" fill="none" stroke="#999" stroke-width="0.6"/>
<circle cx="428.6" cy="367.6" r="1.45" fill="none" stroke="#999" stroke-width="0.6"/>
<circle cx="438.9" cy="366.8" r="1.45" fill="none" stroke="#999" stroke-width="0.6"/>
<circle cx="419.1" cy="379.0" r="1.45" fill="none" stroke="#999" stroke-width="0.6"/>
<circle cx="422.0" cy="364.8" r="1.45" fill="none" stroke="#999" stroke-width="0.6"/>
<circle cx="429.0" cy="365.7" r="1.45" fill="none" stroke="#999" stroke-width="0.6"/>
<circle cx="422.5" cy="366.6" r="1.45" fill="none" stroke="#999" stroke-width="0.6"/>
<circle cx="446.4" cy="363.2" r="1.45" fill="none" stroke="#999" stroke-width="0.6"/>
<circle cx="429.0" cy="379.7" r="1.45" fill="none" stroke="#999" stroke-width="0.6"/>
<circle cx="435.6" cy="376.3" r="1.45" fill="none" stroke="#999" stroke-width="0.6"/>
<circle cx="436.5" cy="350.3" r="1.45" fill="none" stroke="#999" stroke-width="0.6"/>
<circle cx="423.5" cy="370.2" r="1.45" fill="none" stroke="#999" stroke-width="0.6"/>
<circle cx="433.7" cy="381.3" r="1.45" fill="none" stroke="#999" stroke-width="0.6"/>
<circle cx="433.5" cy="366.7" r="1.45" fill="none" stroke="#999" stroke-width="0.6"/>
<circle cx="430.3" cy="367.0" r="1.45" fill="none" stroke="#999" stroke-width="0.6"/>
<circle cx="431.9" cy="375.4" r="1.45" fill="none" stroke="#999" stroke-width="0.6"/>
<circle cx="427.5" cy="361.3" r="1.45" fill="none" stroke="#999" stroke-width="0.6"/>
<circle cx="423.6" cy="379.4" r="1.45" fill="none" stroke="#999" stroke-width="0.6"/>
<circle cx="439.6" cy="378.4" r="1.45" fill="none" stroke="#999" stroke-width="0.6"/>
<circle cx="436.4" cy="376.9" r="1.45" fill="none" stroke="#999" stroke-width="0.6"/>
<circle cx="430.0" cy="375.3" r="1.45" fill="none" stroke="#999" stroke-width="0.6"/>
<circle cx="422.1" cy="367.1" r="1.45" fill="none" stroke="#999" stroke-width="0.6"/>
<circle cx="424.5" cy="375.9" r="1.45" fill="none" stroke="#999" stroke-width="0.6"/>
<circle cx="425.7" cy="368.0" r="1.45" fill="none" stroke="#999" stroke-width="0.6"/>
<circle cx="433.0" cy="381.9" r="1.45" fill="none" stroke="#999" stroke-width="0.6"/>
<circle cx="424.1" cy="360.1" r="1.45" fill="none" stroke="#999" stroke-width="0.6"/>
<circle cx="436.1" cy="358.5" r="1.45" fill="none" stroke="#999" stroke-width="0.6"/>
<circle cx="433.4" cy="363.6" r="1.45" fill="none" stroke="#999" stroke-width="0.6"/>
<circle cx="429.2" cy="351.7" r="1.45" fill="none" stroke="#999" stroke-width="0.6"/>
<circle cx="435.4" cy="364.2" r="1.45" fill="none" stroke="#999" stroke-width="0.6"/>
<circle cx="423.3" cy="388.7" r="1.45" fill="none" stroke="#999" stroke-width="0.6"/>
<circle cx="433.1" cy="365.7" r="1.45" fill="none" stroke="#999" stroke-width="0.6"/>
<circle cx="430.8" cy="384.3" r="1.45" fill="none" stroke="#999" stroke-width="0.6"/>
<circle cx="429.8" cy="373.3" r="1.45" fill="none" stroke="#999" stroke-width="0.6"/>
<circle cx="433.9" cy="360.4" r="1.45" fill="none" stroke="#999" stroke-width="0.6"/>
<circle cx="431.0" cy="364.2" r="1.45" fill="none" stroke="#999" stroke-width="0.6"/>
<circle cx="420.7" cy="377.3" r="1.45" fill="none" stroke="#999" stroke-width="0.6"/>
<circle cx="435.0" cy="369.7" r="1.45" fill="none" stroke="#999" stroke-width="0.6"/>
<circle cx="423.2" cy="349.9" r="1.45" fill="none" stroke="#999" stroke-width="0.6"/>
<circle cx="433.6" cy="368.1" r="1.45" fill="none" stroke="#999" stroke-width="0.6"/>
<circle cx="417.4" cy="368.4" r="1.45" fill="none" stroke="#999" stroke-width="0.6"/>
<circle cx="418.6" cy="368.7" r="1.45" fill="none" stroke="#999" stroke-width="0.6"/>
<circle cx="431.1" cy="372.4" r="1.45" fill="none" stroke="#999" stroke-width="0.6"/>
<circle cx="431.6" cy="370.6" r="1.45" fill="none" stroke="#999" stroke-width="0.6"/>
<circle cx="421.5" cy="365.4" r="1.45" fill="none" stroke="#999" stroke-width="0.6"/>
<circle cx="426.2" cy="366.8" r="1.45" fill="none" stroke="#999" stroke-width="0.6"/>
<circle cx="432.0" cy="374.9" r="1.45" fill="none" stroke="#999" stroke-width="0.6"/>
<circle cx="442.3" cy="344.6" r="1.45" fill="none" stroke="#999" stroke-width="0.6"/>
<circle cx="433.0" cy="367.1" r="1.45" fill="none" stroke="#999" stroke-width="0.6"/>
<circle cx="447.1" cy="377.9" r="1.45" fill="none" stroke="#999" stroke-width="0.6"/>
<circle cx="417.6" cy="372.8" r="1.45" fill="none" stroke="#999" stroke-width="0.6"/>
<circle cx="426.1" cy="378.4" r="1.45" fill="none" stroke="#999" stroke-width="0.6"/>
<circle cx="422.1" cy="368.0" r="1.45" fill="none" stroke="#999" stroke-width="0.6"/>
<circle cx="429.0" cy="368.1" r="1.45" fill="none" stroke="#999" stroke-width="0.6"/>
<circle cx="425.6" cy="351.5" r="1.45" fill="none" stroke="#999" stroke-width="0.6"/>
<circle cx="433.5" cy="378.5" r="1.45" fill="none" stroke="#999" stroke-width="0.6"/>
<circle cx="429.5" cy="359.3" r="1.45" fill="none" stroke="#999" stroke-width="0.6"/>
<circle cx="431.5" cy="374.4" r="1.45" fill="none" stroke="#999" stroke-width="0.6"/>
<circle cx="428.7" cy="368.9" r="1.45" fill="none" stroke="#999" stroke-width="0.6"/>
<circle cx="440.6" cy="358.4" r="1.45" fill="none" stroke="#999" stroke-width="0.6"/>
<circle cx="425.8" cy="350.9" r="1.45" fill="none" stroke="#999" stroke-width="0.6"/>
<circle cx="424.8" cy="362.0" r="1.45" fill="none" stroke="#999" stroke-width="0.6"/>
<circle cx="422.8" cy="362.4" r="1.45" fill="none" stroke="#999" stroke-width="0.6"/>
<circle cx="443.5" cy="367.1" r="1.45" fill="none" stroke="#999" stroke-width="0.6"/>
<circle cx="429.1" cy="389.9" r="1.45" fill="none" stroke="#999" stroke-width="0.6"/>
<circle cx="429.5" cy="352.5" r="1.45" fill="none" stroke="#999" stroke-width="0.6"/>
<circle cx="433.0" cy="360.1" r="1.45" fill="none" stroke="#999" stroke-width="0.6"/>
<circle cx="442.3" cy="357.2" r="1.45" fill="none" stroke="#999" stroke-width="0.6"/>
<circle cx="425.6" cy="353.7" r="1.45" fill="none" stroke="#999" stroke-width="0.6"/>
<circle cx="430.7" cy="359.4" r="1.45" fill="none" stroke="#999" stroke-width="0.6"/>
<circle cx="429.5" cy="365.4" r="1.45" fill="none" stroke="#999" stroke-width="0.6"/>
<circle cx="425.4" cy="378.0" r="1.45" fill="none" stroke="#999" stroke-width="0.6"/>
<circle cx="437.0" cy="369.6" r="1.45" fill="none" stroke="#999" stroke-width="0.6"/>
<circle cx="423.2" cy="358.8" r="1.45" fill="none" stroke="#999" stroke-width="0.6"/>
<circle cx="426.6" cy="361.5" r="1.45" fill="none" stroke="#999" stroke-width="0.6"/>
<circle cx="424.8" cy="358.6" r="1.45" fill="none" stroke="#999" stroke-width="0.6"/>
<circle cx="422.7" cy="367.1" r="1.45" fill="none" stroke="#999" stroke-width="0.6"/>
<circle cx="440.8" cy="369.0" r="1.45" fill="none" stroke="#999" stroke-width="0.6"/>
<circle cx="426.2" cy="353.7" r="1.45" fill="none" stroke="#999" stroke-width="0.6"/>
<circle cx="431.6" cy="368.7" r="1.45" fill="none" stroke="#999" stroke-width="0.6"/>
<circle cx="420.8" cy="358.7" r="1.45" fill="none" stroke="#999" stroke-width="0.6"/>
<circle cx="429.7" cy="378.6" r="1.45" fill="none" stroke="#999" stroke-width="0.6"/>
<circle cx="434.7" cy="371.0" r="1.45" fill="none" stroke="#999" stroke-width="0.6"/>
<circle cx="427.6" cy="372.0" r="1.45" fill="none" stroke="#999" stroke-width="0.6"/>
<circle cx="429.9" cy="389.6" r="1.45" fill="none" stroke="#999" stroke-width="0.6"/>
<circle cx="421.5" cy="365.5" r="1.45" fill="none" stroke="#999" stroke-width="0.6"/>
<circle cx="439.5" cy="366.5" r="1.45" fill="none" stroke="#999" stroke-width="0.6"/>
<circle cx="440.7" cy="368.6" r="1.45" fill="none" stroke="#999" stroke-width="0.6"/>
<circle cx="431.1" cy="365.5" r="1.45" fill="none" stroke="#999" stroke-width="0.6"/>
<circle cx="419.6" cy="359.8" r="1.45" fill="none" stroke="#999" stroke-width="0.6"/>
<circle cx="446.6" cy="375.1" r="1.45" fill="none" stroke="#999" stroke-width="0.6"/>
<circle cx="434.5" cy="378.1" r="1.45" fill="none" stroke="#999" stroke-width="0.6"/>
<circle cx="434.3" cy="378.7" r="1.45" fill="none" stroke="#999" stroke-width="0.6"/>
<circle cx="428.0" cy="366.9" r="1.45" fill="none" stroke="#999" stroke-width="0.6"/>
<circle cx="437.4" cy="365.7" r="1.45" fill="none" stroke="#999" stroke-width="0.6"/>
<circle cx="420.0" cy="366.9" r="1.45" fill="none" stroke="#999" stroke-width="0.6"/>
<circle cx="425.9" cy="374.8" r="1.45" fill="none" stroke="#999" stroke-width="0.6"/>
<circle cx="424.6" cy="358.9" r="1.45" fill="none" stroke="#999" stroke-width="0.6"/>
<circle cx="427.5" cy="383.8" r="1.45" fill="none" stroke="#999" stroke-width="0.6"/>
<circle cx="429.6" cy="370.5" r="1.45" fill="none" stroke="#999" stroke-width="0.6"/>
<circle cx="430.1" cy="371.8" r="1.45" fill="none" stroke="#999" stroke-width="0.6"/>
<circle cx="437.0" cy="382.3" r="1.45" fill="none" stroke="#999" stroke-width="0.6"/>
<circle cx="417.7" cy="381.9" r="1.45" fill="none" stroke="#999" stroke-width="0.6"/>
<circle cx="430.0" cy="366.0" r="1.45" fill="none" stroke="#999" stroke-width="0.6"/>
<circle cx="448.0" cy="367.4" r="1.45" fill="none" stroke="#999" stroke-width="0.6"/>
<circle cx="444.6" cy="378.2" r="1.45" fill="none" stroke="#999" stroke-width="0.6"/>
<circle cx="422.3" cy="373.6" r="1.45" fill="none" stroke="#999" stroke-width="0.6"/>
<circle cx="435.5" cy="367.8" r="1.45" fill="none" stroke="#999" stroke-width="0.6"/>
<circle cx="428.6" cy="358.5" r="1.45" fill="none" stroke="#999" stroke-width="0.6"/>
<circle cx="443.7" cy="366.7" r="1.45" fill="none" stroke="#999" stroke-width="0.6"/>
<circle cx="427.0" cy="366.2" r="1.45" fill="none" stroke="#999" stroke-width="0.6"/>
<circle cx="424.1" cy="361.6" r="1.45" fill="none" stroke="#999" stroke-width="0.6"/>
<circle cx="430.7" cy="372.0" r="1.45" fill="none" stroke="#999" stroke-width="0.6"/>
<circle cx="426.2" cy="368.1" r="1.45" fill="none" stroke="#999" stroke-width="0.6"/>
<circle cx="419.6" cy="374.0" r="1.45" fill="none" stroke="#999" stroke-width="0.6"/>
<circle cx="424.4" cy="371.0" r="1.45" fill="none" stroke="#999" stroke-width="0.6"/>
<circle cx="423.2" cy="364.1" r="1.45" fill="none" stroke="#999" stroke-width="0.6"/>
<circle cx="431.6" cy="357.5" r="1.45" fill="none" stroke="#999" stroke-width="0.6"/>
<circle cx="448.5" cy="368.7" r="1.45" fill="none" stroke="#999" stroke-width="0.6"/>
<circle cx="429.5" cy="362.0" r="1.45" fill="none" stroke="#999" stroke-width="0.6"/>
<circle cx="442.0" cy="382.2" r="1.45" fill="none" stroke="#999" stroke-width="0.6"/>
<circle cx="432.2" cy="356.0" r="1.45" fill="none" stroke="#999" stroke-width="0.6"/>
<circle cx="426.2" cy="374.9" r="1.45" fill="none" stroke="#999" stroke-width="0.6"/>
<circle cx="426.2" cy="357.8" r="1.45" fill="none" stroke="#999" stroke-width="0.6"/>
<circle cx="421.1" cy="361.7" r="1.45" fill="none" stroke="#999" stroke-width="0.6"/>
<circle cx="430.1" cy="362.8" r="1.45" fill="none" stroke="#999" stroke-width="0.6"/>
<circle cx="443.3" cy="359.1" r="1.45" fill="none" stroke="#999" stroke-width="0.6"/>
<circle cx="432.6" cy="369.8" r="1.45" fill="none" stroke="#999" stroke-width="0.6"/>
<circle cx="429.0" cy="378.9" r="1.45" fill="none" stroke="#999" stroke-width="0.6"/>
<circle cx="427.5" cy="365.9" r="1.45" fill="none" stroke="#999" stroke-width="0.6"/>
<circle cx="427.2" cy="368.0" r="1.45" fill="none" stroke="#999" stroke-width="0.6"/>
<circle cx="439.6" cy="376.4" r="1.45" fill="none" stroke="#999" stroke-width="0.6"/>
<circle cx="419.9" cy="364.8" r="1.45" fill="none" stroke="#999" stroke-width="0.6"/>
<circle cx="424.0" cy="376.8" r="1.45" fill="none" stroke="#999" stroke-width="0.6"/>
<circle cx="431.7" cy="377.5" r="1.45" fill="none" stroke="#999" stroke-width="0.6"/>
<circle cx="429.5" cy="350.9" r="1.45" fill="none" stroke="#999" stroke-width="0.6"/>
<circle cx="433.4" cy="371.2" r="1.45" fill="none" stroke="#999" stroke-width="0.6"/>
<circle cx="433.8" cy="356.6" r="1.45" fill="none" stroke="#999" stroke-width="0.6"/>
<circle cx="430.6" cy="362.5" r="1.45" fill="none" stroke="#999" stroke-width="0.6"/>
<circle cx="424.8" cy="372.4" r="1.45" fill="none" stroke="#999" stroke-width="0.6"/>
<circle cx="432.6" cy="360.5" r="1.45" fill="none" stroke="#999" stroke-width="0.6"/>
<circle cx="425.7" cy="379.7" r="1.45" fill="none" stroke="#999" stroke-width="0.6"/>
<circle cx="429.6" cy="347.6" r="1.45" fill="none" stroke="#999" stroke-width="0.6"/>
<circle cx="423.5" cy="373.0" r="1.45" fill="none" stroke="#999" stroke-width="0.6"/>
<circle cx="442.5" cy="380.1" r="1.45" fill="none" stroke="#999" stroke-width="0.6"/>
<circle cx="432.8" cy="370.9" r="1.45" fill="none" stroke="#999" stroke-width="0.6"/>
<circle cx="422.1" cy="364.7" r="1.45" fill="none" stroke="#999" stroke-width="0.6"/>
<circle cx="427.5" cy="361.6" r="1.45" fill="none" stroke="#999" stroke-width="0.6"/>
<circle cx="430.5" cy="365.3" r="1.45" fill="none" stroke="#999" stroke-width="0.6"/>
<circle cx="432.5" cy="382.6" r="1.45" fill="none" stroke="#999" stroke-width="0.6"/>
<circle cx="435.6" cy="373.0" r="1.45" fill="none" stroke="#999" stroke-width="0.6"/>
<circle cx="428.2" cy="354.6" r="1.45" fill="none" stroke="#999" stroke-width="0.6"/>
<circle cx="429.1" cy="374.2" r="1.45" fill="none" stroke="#999" stroke-width="0.6"/>
<circle cx="422.4" cy="380.9" r="1.45" fill="none" stroke="#999" stroke-width="0.6"/>
<circle cx="427.5" cy="372.5" r="1.45" fill="none" stroke="#999" stroke-width="0.6"/>
<circle cx="427.5" cy="357.1" r="1.45" fill="none" stroke="#999" stroke-width="0.6"/>
<circle cx="445.5" cy="358.0" r="1.45" fill="none" stroke="#999" stroke-width="0.6"/>
<circle cx="436.9" cy="363.7" r="1.45" fill="none" stroke="#999" stroke-width="0.6"/>
<circle cx="432.1" cy="361.3" r="1.45" fill="none" stroke="#999" stroke-width="0.6"/>
<circle cx="426.9" cy="377.7" r="1.45" fill="none" stroke="#999" stroke-width="0.6"/>
<circle cx="444.6" cy="361.0" r="1.45" fill="none" stroke="#999" stroke-width="0.6"/>
<circle cx="378.0" cy="367.3" r="1.45" fill="none" stroke="#999" stroke-width="0.6"/>
<circle cx="375.8" cy="366.5" r="1.45" fill="none" stroke="#999" stroke-width="0.6"/>
<circle cx="375.3" cy="366.1" r="1.45" fill="none" stroke="#999" stroke-width="0.6"/>
<circle cx="379.5" cy="368.2" r="1.45" fill="none" stroke="#999" stroke-width="0.6"/>
<circle cx="380.6" cy="369.3" r="1.45" fill="none" stroke="#999" stroke-width="0.6"/>
<circle cx="373.6" cy="362.8" r="1.45" fill="none" stroke="#999" stroke-width="0.6"/>
<circle cx="378.4" cy="362.8" r="1.45" fill="none" stroke="#999" stroke-width="0.6"/>
<circle cx="372.1" cy="362.2" r="1.45" fill="none" stroke="#999" stroke-width="0.6"/>
<circle cx="379.2" cy="364.7" r="1.45" fill="none" stroke="#999" stroke-width="0.6"/>
<circle cx="377.4" cy="356.5" r="1.45" fill="none" stroke="#999" stroke-width="0.6"/>
<circle cx="381.6" cy="368.6" r="1.45" fill="none" stroke="#999" stroke-width="0.6"/>
<circle cx="376.4" cy="361.9" r="1.45" fill="none" stroke="#999" stroke-width="0.6"/>
<circle cx="379.1" cy="369.9" r="1.45" fill="none" stroke="#999" stroke-width="0.6"/>
<circle cx="372.1" cy="363.2" r="1.45" fill="none" stroke="#999" stroke-width="0.6"/>
<circle cx="375.5" cy="366.0" r="1.45" fill="none" stroke="#999" stroke-width="0.6"/>
<circle cx="373.7" cy="364.2" r="1.45" fill="none" stroke="#999" stroke-width="0.6"/>
<circle cx="377.0" cy="358.6" r="1.45" fill="none" stroke="#999" stroke-width="0.6"/>
<circle cx="372.6" cy="363.2" r="1.45" fill="none" stroke="#999" stroke-width="0.6"/>
<circle cx="379.2" cy="360.5" r="1.45" fill="none" stroke="#999" stroke-width="0.6"/>
<circle cx="376.3" cy="364.9" r="1.45" fill="none" stroke="#999" stroke-width="0.6"/>
<circle cx="376.5" cy="365.5" r="1.45" fill="none" stroke="#999" stroke-width="0.6"/>
<circle cx="379.0" cy="367.5" r="1.45" fill="none" stroke="#999" stroke-width="0.6"/>
<circle cx="375.6" cy="372.9" r="1.45" fill="none" stroke="#999" stroke-width="0.6"/>
<circle cx="380.8" cy="365.1" r="1.45" fill="none" stroke="#999" stroke-width="0.6"/>
<circle cx="381.8" cy="367.3" r="1.45" fill="none" stroke="#999" stroke-width="0.6"/>
<circle cx="378.4" cy="361.8" r="1.45" fill="none" stroke="#999" stroke-width="0.6"/>
<circle cx="371.4" cy="360.1" r="1.45" fill="none" stroke="#999" stroke-width="0.6"/>
<circle cx="379.6" cy="364.4" r="1.45" fill="none" stroke="#999" stroke-width="0.6"/>
<circle cx="379.0" cy="366.2" r="1.45" fill="none" stroke="#999" stroke-width="0.6"/>
<circle cx="378.5" cy="369.5" r="1.45" fill="none" stroke="#999" stroke-width="0.6"/>
<circle cx="417.9" cy="359.6" r="1.45" fill="none" stroke="#999" stroke-width="0.6"/>
<circle cx="421.1" cy="363.6" r="1.45" fill="none" stroke="#999" stroke-width="0.6"/>
<circle cx="422.8" cy="366.2" r="1.45" fill="none" stroke="#999" stroke-width="0.6"/>
<circle cx="418.3" cy="365.1" r="1.45" fill="none" stroke="#999" stroke-width="0.6"/>
<circle cx="421.6" cy="357.4" r="1.45" fill="none" stroke="#999" stroke-width="0.6"/>
<circle cx="419.5" cy="368.3" r="1.45" fill="none" stroke="#999" stroke-width="0.6"/>
<circle cx="422.7" cy="359.4" r="1.45" fill="none" stroke="#999" stroke-width="0.6"/>
<circle cx="417.5" cy="361.3" r="1.45" fill="none" stroke="#999" stroke-width="0.6"/>
<circle cx="428.1" cy="363.6" r="1.45" fill="none" stroke="#999" stroke-width="0.6"/>
<circle cx="421.1" cy="357.7" r="1.45" fill="none" stroke="#999" stroke-width="0.6"/>
<circle cx="418.4" cy="371.5" r="1.45" fill="none" stroke="#999" stroke-width="0.6"/>
<circle cx="418.6" cy="358.8" r="1.45" fill="none" stroke="#999" stroke-width="0.6"/>
<circle cx="424.0" cy="361.3" r="1.45" fill="none" stroke="#999" stroke-width="0.6"/>
<circle cx="415.7" cy="365.5" r="1.45" fill="none" stroke="#999" stroke-width="0.6"/>
<circle cx="418.9" cy="356.3" r="1.45" fill="none" stroke="#999" stroke-width="0.6"/>
<circle cx="421.1" cy="362.7" r="1.45" fill="none" stroke="#999" stroke-width="0.6"/>
<circle cx="418.8" cy="363.4" r="1.45" fill="none" stroke="#999" stroke-width="0.6"/>
<circle cx="422.9" cy="357.9" r="1.45" fill="none" stroke="#999" stroke-width="0.6"/>
<circle cx="419.6" cy="365.3" r="1.45" fill="none" stroke="#999" stroke-width="0.6"/>
<circle cx="423.5" cy="365.9" r="1.45" fill="none" stroke="#999" stroke-width="0.6"/>
<circle cx="426.5" cy="361.1" r="1.45" fill="none" stroke="#999" stroke-width="0.6"/>
<circle cx="423.7" cy="355.6" r="1.45" fill="none" stroke="#999" stroke-width="0.6"/>
<circle cx="422.4" cy="362.4" r="1.45" fill="none" stroke="#999" stroke-width="0.6"/>
<circle cx="419.7" cy="359.5" r="1.45" fill="none" stroke="#999" stroke-width="0.6"/>
<circle cx="416.1" cy="361.5" r="1.45" fill="none" stroke="#999" stroke-width="0.6"/>
<circle cx="424.5" cy="359.7" r="1.45" fill="none" stroke="#999" stroke-width="0.6"/>
<circle cx="421.9" cy="358.7" r="1.45" fill="none" stroke="#999" stroke-width="0.6"/>
<circle cx="420.9" cy="357.5" r="1.45" fill="none" stroke="#999" stroke-width="0.6"/>
<circle cx="421.3" cy="360.2" r="1.45" fill="none" stroke="#999" stroke-width="0.6"/>
<circle cx="421.1" cy="358.9" r="1.45" fill="none" stroke="#999" stroke-width="0.6"/>
<line x1="309" y1="388" x2="482" y2="388" stroke="#333" stroke-width="1.1" stroke-dasharray="1,1"/>
<text x="316.2" y="386.8" font-size="5.6" text-anchor="start" font-weight="bold" font-style="normal" fill="#111" >FDR &lt; 5%</text>
<circle cx="390.2" cy="383.2" r="1.5" fill="#5a20c8" stroke="#444" stroke-width="0.25"/>
<circle cx="389.3" cy="382.8" r="1.5" fill="#1a1ab0" stroke="#444" stroke-width="0.25"/>
<circle cx="388.6" cy="381.6" r="1.5" fill="#1a1ab0" stroke="#444" stroke-width="0.25"/>
<circle cx="390.4" cy="384.0" r="1.5" fill="#1a1ab0" stroke="#444" stroke-width="0.25"/>
<circle cx="399.6" cy="390.8" r="1.5" fill="#d88a30" stroke="#444" stroke-width="0.25"/>
<circle cx="398.1" cy="390.5" r="1.5" fill="#e6e020" stroke="#444" stroke-width="0.25"/>
<circle cx="395.6" cy="389.4" r="1.5" fill="#e6e020" stroke="#444" stroke-width="0.25"/>
<circle cx="393.2" cy="388.4" r="1.5" fill="#e6e020" stroke="#444" stroke-width="0.25"/>
<circle cx="391.2" cy="387.6" r="1.5" fill="#d8d840" stroke="#444" stroke-width="0.25"/>
<circle cx="424.9" cy="336.2" r="1.5" fill="#d01828" stroke="#444" stroke-width="0.25"/>
<circle cx="413.6" cy="372.0" r="1.5" fill="#c82a68" stroke="#444" stroke-width="0.25"/>
<circle cx="493.2" cy="298.9" r="2.5" fill="#b01818" stroke="#222" stroke-width="0.75"/>
<text x="497.3" y="301.7" font-size="6.5" text-anchor="start" font-weight="normal" font-style="italic" fill="#111" stroke="#111" stroke-width="0.32">HBG1</text>
<circle cx="493.2" cy="306.5" r="2.5" fill="#a22ab8" stroke="#222" stroke-width="0.75"/>
<text x="497.3" y="309.27" font-size="6.5" text-anchor="start" font-weight="normal" font-style="italic" fill="#111" stroke="#111" stroke-width="0.32">HBG2</text>
<circle cx="493.2" cy="314.0" r="2.5" fill="#1a1ab0" stroke="#222" stroke-width="0.75"/>
<text x="497.3" y="316.84" font-size="6.5" text-anchor="start" font-weight="normal" font-style="italic" fill="#111" stroke="#111" stroke-width="0.32">HBB</text>
<circle cx="493.2" cy="321.6" r="2.5" fill="#5a20c8" stroke="#222" stroke-width="0.75"/>
<text x="497.3" y="324.41" font-size="6.5" text-anchor="start" font-weight="normal" font-style="italic" fill="#111" stroke="#111" stroke-width="0.32">HBD</text>
<circle cx="493.2" cy="329.2" r="2.5" fill="#dce23a" stroke="#222" stroke-width="0.75"/>
<text x="497.3" y="331.98" font-size="6.5" text-anchor="start" font-weight="normal" font-style="italic" fill="#111" stroke="#111" stroke-width="0.32">HBE1</text>
<circle cx="493.2" cy="336.8" r="2.5" fill="#d0843c" stroke="#222" stroke-width="0.75"/>
<text x="497.3" y="339.55" font-size="6.5" text-anchor="start" font-weight="normal" font-style="italic" fill="#111" stroke="#111" stroke-width="0.32">HBA1/2</text>
</svg></body></html>
